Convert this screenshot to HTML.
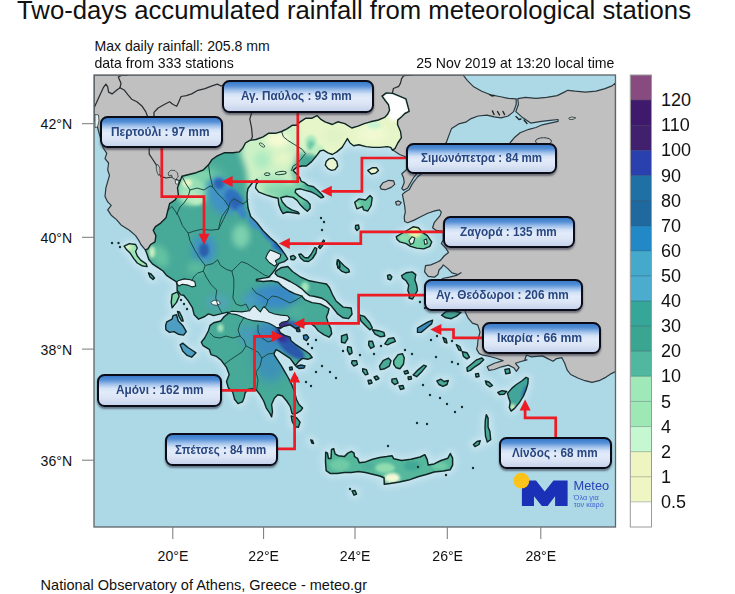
<!DOCTYPE html>
<html lang="el"><head><meta charset="utf-8"><title>Two-days accumulated rainfall</title>
<style>
html,body{margin:0;padding:0;background:#fff;}
body{width:735px;height:594px;overflow:hidden;position:relative;font-family:"Liberation Sans",sans-serif;color:#111;}
svg{position:absolute;left:0;top:0;}
text{font-family:"Liberation Sans",sans-serif;}
.t{position:absolute;white-space:nowrap;line-height:1;}
.lb{position:absolute;box-sizing:border-box;border:2.6px solid #0a0c18;border-radius:7.5px;
 background:linear-gradient(to bottom,#3a7bcb 0%,#5590d6 14%,#9dbfea 28%,#d3e2f6 42%,#e2ebf9 55%,#dce5f5 75%,#c6d3ec 100%);
 box-shadow:0 2px 2px rgba(40,40,60,.55);}
.lb span{position:absolute;top:50%;transform:translateY(-40%);font-weight:bold;font-size:11.85px;color:#27467f;white-space:nowrap;line-height:1;display:inline-block;transform-origin:0 50%;}
</style></head><body>

<svg width="735" height="594" viewBox="0 0 735 594">
<defs><clipPath id="fc"><rect x="94" y="75" width="521.5" height="452"/></clipPath><filter id="b1" x="-20%" y="-20%" width="140%" height="140%"><feGaussianBlur stdDeviation="3"/></filter><filter id="b2" x="-30%" y="-30%" width="160%" height="160%"><feGaussianBlur stdDeviation="5"/></filter><filter id="b0" x="-20%" y="-20%" width="140%" height="140%"><feGaussianBlur stdDeviation="1.6"/></filter></defs>
<g clip-path="url(#fc)">
<rect x="93" y="74" width="524" height="454" fill="#add8e6"/>
<g filter="url(#b1)" opacity=".8" fill="#cfe9f2" stroke="#cfe9f2" stroke-width="8" stroke-linejoin="round"><polygon points="145.3,249.8 147.9,248.9 150.6,244.5 155.0,241.8 155.9,235.6 153.2,230.3 155.4,226.7 160.7,223.1 166.0,217.8 167.8,210.7 169.6,203.7 174.9,200.1 178.4,194.8 177.5,187.8 180.2,180.7 182.0,176.3 189.0,174.5 196.1,172.7 203.2,170.0 208.5,164.8 212.0,159.5 217.3,155.9 224.1,152.8 233.0,152.8 239.2,151.9 242.7,148.3 245.4,143.0 249.8,140.4 256.0,139.5 263.1,136.8 268.4,133.3 275.4,133.3 281.6,131.5 286.9,128.9 292.2,125.3 296.7,125.3 300.2,121.8 305.5,118.3 311.7,118.3 317.0,115.6 320.5,119.1 325.0,121.8 332.4,124.5 337.7,121.8 344.8,123.6 351.8,128.0 358.0,126.2 364.2,123.6 370.4,121.8 378.4,120.0 384.6,117.4 387.4,114.6 389.6,110.3 388.5,104.8 385.2,100.5 382.0,96.1 386.3,92.9 392.9,93.4 399.4,96.1 405.9,98.8 407.5,104.8 409.2,111.3 404.8,113.5 401.6,116.8 397.7,120.1 397.5,124.5 400.5,131.5 401.4,137.7 397.8,143.0 395.2,148.3 392.5,150.1 390.7,147.4 387.2,146.6 380.1,147.4 373.1,147.4 366.0,146.6 358.9,144.8 353.6,145.7 350.1,143.0 347.4,138.6 344.8,143.0 342.1,147.4 336.8,151.9 332.4,154.5 328.0,152.8 323.5,150.1 320.0,151.0 316.1,156.3 311.7,161.6 306.4,166.0 302.0,166.0 297.0,167.0 293.1,170.4 296.7,174.0 299.9,177.9 301.2,181.3 304.6,182.7 308.0,185.4 313.5,186.8 317.6,190.2 321.6,194.3 323.7,197.0 321.0,197.9 316.2,194.5 310.7,191.7 305.3,190.4 300.5,188.8 295.8,189.5 295.1,192.2 298.5,195.6 302.6,198.3 307.3,201.1 310.1,204.5 310.1,208.5 307.3,211.3 303.9,208.5 300.5,205.1 297.1,200.4 293.1,197.4 286.3,196.3 280.8,197.7 282.2,201.7 286.3,206.5 291.7,209.9 297.8,211.9 299.2,213.7 293.1,212.8 286.9,212.0 282.9,213.5 280.8,209.9 278.8,204.5 278.1,198.3 272.7,197.0 265.9,194.9 259.0,192.2 255.6,188.1 256.3,184.0 258.6,182.0 256.9,179.3 252.4,182.8 248.0,188.5 247.1,193.4 247.1,198.8 248.0,207.7 250.7,216.5 256.9,222.7 263.1,230.7 270.1,237.8 276.3,243.1 280.8,248.4 285.2,254.6 287.8,259.0 284.3,261.6 279.0,263.4 277.2,266.0 275.4,269.3 272.7,272.7 268.6,277.4 263.2,278.1 256.4,279.5 256.4,280.8 263.2,281.5 271.3,280.8 278.1,282.2 282.2,286.3 289.0,291.0 294.5,293.7 301.3,295.8 305.3,299.9 312.1,302.6 320.3,303.9 325.7,306.7 329.0,308.5 328.2,312.4 326.4,316.9 328.2,323.1 330.8,328.4 331.7,333.7 329.0,337.2 323.7,334.6 318.4,331.0 314.9,326.6 310.5,323.1 306.1,323.9 300.7,326.6 295.4,328.4 290.1,324.8 283.1,326.6 278.6,329.3 280.4,332.8 284.8,335.4 290.1,337.2 291.0,340.7 295.4,344.3 300.7,347.8 306.1,351.4 309.6,354.0 312.2,357.5 307.8,359.3 302.5,358.4 299.0,361.1 295.4,365.5 292.8,362.0 290.1,358.4 284.8,354.9 279.5,351.4 276.0,349.6 274.2,353.1 274.3,355.0 277.8,360.3 281.3,365.6 284.9,371.8 288.4,378.0 292.0,385.1 294.6,392.1 296.4,399.2 299.0,404.5 302.6,408.1 300.8,410.7 296.4,413.4 293.0,414.0 292.0,413.4 290.2,406.3 286.7,401.0 282.2,395.7 277.8,394.8 274.3,398.3 271.6,404.5 272.5,411.6 271.6,416.9 269.9,413.4 266.3,408.1 263.7,401.0 260.1,394.8 256.6,390.4 253.1,388.6 247.8,389.5 245.1,393.0 244.2,397.4 242.4,401.9 238.0,403.6 234.5,399.2 232.7,392.1 228.3,387.7 226.5,381.5 229.2,374.5 226.5,367.4 221.2,360.3 216.3,356.3 211.0,354.6 209.3,349.3 203.1,345.7 201.3,342.2 204.8,337.8 208.4,330.7 210.1,325.4 213.7,322.7 220.7,321.0 224.3,316.5 227.8,313.9 227.8,312.1 220.7,313.9 213.7,315.6 208.4,313.9 204.8,316.5 198.6,319.2 194.2,314.8 192.4,307.7 188.0,300.6 183.6,295.3 180.7,294.9 177.1,290.4 177.1,285.1 176.2,281.6 171.8,278.9 166.5,275.4 163.0,271.0 157.7,267.4 152.4,263.9 148.8,259.5 147.1,254.2"/><polygon points="276.0,271.0 280.8,267.8 287.8,266.5 292.5,271.5 300.4,277.0 309.3,280.8 319.0,282.6 326.5,284.0 329.5,287.7 332.6,294.8 336.1,301.0 343.2,307.1 351.2,308.0 352.0,314.2 348.5,318.6 343.2,317.8 337.9,314.2 334.4,309.8 330.8,305.4 326.4,301.0 322.0,298.3 314.9,296.5 309.6,295.6 306.1,293.0 301.6,288.6 296.3,285.0 290.1,281.5 283.1,278.0 277.8,276.2 275.1,273.5"/><polygon points="325.7,452.2 327.5,453.1 328.4,458.4 331.0,458.4 331.5,449.5 333.7,448.6 335.1,453.9 338.1,455.7 344.3,456.6 347.8,453.1 351.4,451.3 354.0,453.1 354.5,456.6 357.5,458.4 359.3,462.8 365.5,461.9 372.6,459.2 379.7,457.5 386.7,456.6 392.0,455.7 393.8,458.8 401.7,460.5 410.9,459.3 420.2,457.0 424.8,454.7 427.1,459.3 428.3,465.1 434.1,463.9 441.0,460.5 447.9,458.2 450.3,453.5 452.6,458.2 452.6,465.1 450.3,469.7 443.3,470.9 434.1,472.0 427.1,474.3 417.9,476.7 408.6,480.1 399.4,482.0 390.1,483.6 384.3,484.3 384.0,477.8 379.7,476.0 372.6,474.3 365.5,472.5 358.4,471.6 351.4,472.5 344.3,472.5 337.2,473.4 330.1,473.4 326.2,470.7 325.5,462.0"/><polygon points="124.1,246.2 129.4,243.6 135.6,244.5 137.3,248 135.6,251.5 137.3,256 140.9,260.4 146.2,263.9 147.1,266.6 141.8,265.7 137.3,263 133.8,258.6 130.3,253.3 126.7,249.8"/><polygon points="148.5,273 151,274 154.5,278 153,279.5 150,277"/><polygon points="172.1,294.4 177.4,291.8 179.2,296.2 176.5,302.4 172.1,307.7 171.2,302.4"/><polygon points="166.8,321.8 172.1,319.2 173,315.6 176.5,314.8 178.3,321 182.7,325.4 186.3,331.6 183.6,335.1 178.3,334.2 173.9,331.6 169.5,332.4 165.9,329.8 165.6,325.4"/><polygon points="177.5,311.5 179.5,312 182,317 183.2,321 181.5,321 179,316.5"/><polygon points="180.1,344.8 182.7,343.1 188,347.5 193.3,351 196,352.8 191.6,357.2 187.1,355.4 182.7,351"/><polygon points="291.2,415.9 296.5,417.7 300.1,422.1 298.3,427.4 294.8,426.5 292.1,421.2"/><polygon points="310.7,439.8 312.5,440.5 313.6,443.5 311.8,443"/><polygon points="328.8,158.9 333.3,158.1 336.8,161.6 337.7,166 335,169.6 331.5,170.4 328,168.7 325.3,165.1 326.2,161.6"/><polygon points="367.8,170.4 372.2,167.8 376.6,167.8 378.4,170.4 375.7,173.1 371.3,174"/><polygon points="354.7,202.2 359.1,198.9 365.6,200 370,195.6 372.2,197.8 371.1,205.5 367.8,211 363.5,209.9 362.5,206.5 360.2,207.7 356.9,208.8"/><polygon points="355.6,225.5 358.5,225 359.2,228.5 357,230.6 355.4,228.5"/><polygon points="396.3,236.6 402.5,233 408.7,229.5 413.1,226.8 418.4,227.7 422,232.1 427.3,235.7 431.7,241.9 429.9,246.3 423.7,248.9 416.7,248.1 410.5,246.3 406.1,243.6 399.9,241.9 396.9,239.2"/><polygon points="338,259.6 340.6,262.2 344.1,265.7 348.6,269.3 349.5,271.9 345.9,272.8 341.5,271.1 338,267.5 337.1,263.1"/><polygon points="387.5,275.5 390,274.6 391.9,277 390.5,279.9 388,279"/><polygon points="401.6,275.5 406.1,272.8 412.2,271.9 415.8,274.6 414.9,279.9 416.7,285.2 417.5,290.5 414.9,295 412.5,299 409,298 409.6,295 407.8,290.5 408.7,285.2 406.1,280.8 402.5,278.1"/><polygon points="290.5,256.5 293.5,255.4 295.8,257.5 294,259.9 291,259.5"/><polygon points="298.8,254.5 301,254 304.5,257.5 308,258 311,254.5 313.5,250 315,247.5 316.8,248.5 316,253 312.5,258.5 308.5,261.5 304,261 300.5,258"/><polygon points="318.5,247 321,244 323.5,240 324.5,241 322.5,245.5 320,248.5"/><polygon points="337.3,260 339.5,261.5 340,267 338,268 337,264"/><polygon points="359.2,314.8 364.5,316.5 369.8,322.7 372.4,328 369.8,329.8 365.4,325.4 361,321"/><polygon points="372.4,329.8 378.6,330.7 383.9,332.4 384.8,336 380.4,336.9 375.1,334.2"/><polygon points="388.4,338.6 393.7,337.8 395.4,341.3 391,343.1 387.5,344.8 384.8,343.9"/><polygon points="368.9,341.3 372.4,341.3 374.2,346.6 370.7,348.4 368.6,344.8"/><polygon points="341.5,336 346.8,334.2 347.7,338.6 345,343.1 341.5,342.2"/><polygon points="347.7,346.6 351.2,347.5 352.1,352.8 349.5,354.6 347.3,350.1"/><polygon points="352.1,360.7 356.5,360.7 357.4,364.3 353.9,366.1 351.6,363.4"/><polygon points="362.7,368.7 366.3,369.6 368,374 365.4,374.9 362.7,371.4"/><polygon points="379.5,366.1 383.1,360.7 388.4,358.1 391,360.7 389.3,366.1 384.8,368.7 380.4,369.6"/><polygon points="393.7,360.7 398.1,354.6 402.5,353.7 404.3,358.1 403.4,364.3 399.9,368.7 396.3,367.8 393.7,364.3"/><polygon points="413.1,374.9 418.4,369.6 423.7,365.2 426.4,366.1 422,371.4 416.7,376.7"/><polygon points="391.9,379.3 396.3,378.4 398.1,382.9 394.6,384.6 391.9,382"/><polygon points="417.5,328 422,325.4 428.2,321.8 432.6,320.1 431.7,323.6 426.4,328 421.1,332.4 417.5,332.4"/><polygon points="441.5,315.2 445.9,311.6 453,310.7 461,312.5 456.5,316.1 451.2,318.7 445.9,317.8"/><polygon points="466.9,367.7 471.3,364.2 476.6,359.8 481.9,358 483.7,359.8 480.1,363.3 474.8,366.8 470.4,370.4 467.4,371.3"/><polygon points="462.4,351.8 466.9,352.7 469.5,357.1 466.9,358.9 463.3,356.2"/><polygon points="456.3,344.7 459.8,346.5 461.6,350.9 458.9,350"/><polygon points="443,337.5 446,339 447,343 444.5,342"/><polygon points="504.9,369.5 509.3,368.6 510.2,373 505.8,373.9"/><polygon points="475.5,374 478.5,373.5 479,376.5 476,377"/><polygon points="485.4,381 489,382 492.5,385.5 490,386.8 486.5,384.5"/><polygon points="497.8,392.5 502,390.7 506.7,391.5 504,394.3 499.5,394.5"/><polygon points="436.8,381 441,379.2 444,381.5 448.3,380.5 447,384.5 443,386.3 439,384.5"/><polygon points="486.3,414.6 488.1,418.1 488.1,427 489.9,431.4 490.7,439.7 487.3,442 485.5,436 485,428 485.3,420"/><polygon points="473.4,444.5 477,441.5 480.3,440.8 479,444.5 475,446.6"/><polygon points="512,388.1 516.4,384.5 521.7,381 526.1,377.4 528.2,378.3 527.9,383.6 526.1,389.8 523.5,396 519,403.1 514.6,408.4 511.1,411.1 509.3,407.5 510.2,402.2 508.4,396.9 507.5,393.4"/><polygon points="352,491 355,490.5 356.6,494 354,495.2"/><polygon points="303.4,335.5 306.5,334.6 308.7,337.5 306.5,340.7 303.8,339"/><polygon points="296,328.5 299.5,329 300,331.5 297,331.5"/><polygon points="399,386 403,385.5 404,388.5 400.5,389.5"/><polygon points="374,377 377,376 379,378.5 376,380"/><polygon points="368,380.5 371,380 372,383 369,384"/><polygon points="404,371.5 407.5,370.5 408.5,373 405,374"/><polygon points="408,377 411,376.5 411.5,379 408.5,379.5"/><polygon points="296,366.5 301,365 305,366 304,368 299,368.5"/><polygon points="289.5,367.5 292,367 292.5,369.5 290,370"/></g>
<polygon points="94.0,75.0 463.1,75.0 467.5,80.6 473.7,86.8 481.7,91.2 490.5,94.8 499.4,96.5 508.2,98.3 516.2,98.8 516.2,104.5 513.6,111.6 508.2,116.0 501.1,117.8 494.0,116.9 487.0,115.1 478.1,116.0 471.1,118.6 465.7,122.2 458.7,123.9 451.6,128.4 448.9,135.4 446.3,142.5 438.0,152.0 428.0,162.0 420.0,170.0 414.2,176.8 410.6,182.7 407.7,188.0 403.6,190.3 401.8,188.6 404.2,182.7 403.6,178.0 401.8,173.8 406.5,169.7 408.0,160.0 406.7,157.2 399.6,154.5 394.3,151.0 392.5,150.1 390.0,140.0 350.0,135.0 300.0,140.0 262.0,160.0 232.0,198.0 205.0,238.0 165.0,246.0 145.3,249.8 140.9,244.5 139.1,240.9 135.6,235.6 129.4,230.3 121.0,224.9 116.5,219.6 111.2,215.2 107.7,209.9 111.2,205.4 107.7,201.9 105.0,196.6 105.9,187.8 107.7,181.6 109.5,175.4 107.7,170.0 108.6,163.0 105.0,158.6 106.8,153.3 103.3,148.0 101.0,140.0 98.5,131.0 96.5,123.0 94.0,119.0" fill="#c0c0c0" stroke="#2b383e" stroke-width="1.2" stroke-linejoin="round"/>
<polygon points="615.5,83.0 612.0,85.9 605.0,88.6 596.1,91.2 585.5,92.1 574.9,91.2 567.8,90.3 564.3,92.1 557.2,95.6 546.6,97.4 536.0,98.3 525.4,97.4 517.8,98.6 518.4,104.5 515.8,111.6 521.8,116.9 530.7,123.1 541.3,121.3 550.1,120.4 558.1,119.5 558.1,121.3 550.1,123.1 542.2,124.8 536.0,127.5 528.9,129.3 520.1,132.8 514.8,137.2 510.3,142.5 504.0,152.0 492.0,160.0 476.0,163.0 458.0,160.0 446.0,158.0 436.0,163.0 426.0,170.0 417.5,177.0 412.4,183.6 409.3,189.5 405.2,192.0 402.4,194.4 403.6,200.3 404.7,206.2 405.3,212.1 404.2,216.8 404.7,221.5 407.7,222.7 413.6,220.4 420.6,216.8 427.7,213.3 434.8,210.9 439.5,209.8 441.3,212.1 440.1,215.6 437.1,219.2 434.2,222.7 432.6,227.7 436.1,230.4 443.2,231.3 443.2,240.1 441.4,243.6 445.8,248.1 448.5,252.5 444.1,256.0 440.5,260.4 437.5,262.0 430.8,264.9 425.5,265.7 424.6,271.9 428.2,276.4 434.4,277.2 437.9,274.6 439.0,270.0 442.0,267.0 443.2,264.9 447.6,268.4 452.0,272.8 458.0,274.5 461.0,272.7 456.5,275.4 449.5,277.1 442.4,278.5 441.0,281.0 446.0,283.0 452.0,282.0 458.0,284.0 463.0,288.0 466.0,296.0 464.0,304.0 465.4,312.5 468.0,317.8 472.4,323.1 477.7,324.9 480.0,332.0 478.0,340.0 477.5,345.6 476.6,349.1 479.3,353.6 483.0,355.2 490.0,356.5 497.0,358.5 503.1,360.6 494.3,363.3 487.2,366.8 489.0,370.4 494.3,369.5 501.4,366.8 508.4,365.1 513.7,367.7 516.4,371.3 519.0,367.7 515.5,363.3 520.8,361.5 527.0,359.8 524.8,359.5 526.5,355.0 531.0,356.8 542.4,355.9 547.8,358.6 553.1,361.2 556.6,358.6 561.9,357.7 564.6,363.0 567.2,370.1 570.7,374.5 577.8,378.0 584.9,380.7 592.0,382.4 599.0,380.7 606.1,377.1 611.4,373.6 615.5,371.5" fill="#c0c0c0" stroke="#2b383e" stroke-width="1.2" stroke-linejoin="round"/>
<polygon points="380.0,186.8 383.0,182.7 388.8,180.3 393.6,180.9 394.7,184.4 391.2,187.4 385.3,189.7 381.2,189.1" fill="#c0c0c0" stroke="#2b383e" stroke-width="1.2" stroke-linejoin="round"/>
<polygon points="395.5,202.0 398.5,200.9 401.2,202.5 399.5,205.0 396.5,204.8" fill="#c0c0c0" stroke="#2b383e" stroke-width="1.2" stroke-linejoin="round"/>
<polyline points="94.0,108.0 98.0,99.2 103.3,87.7 105.9,84.1 107.7,86.8 108.6,92.1 112.1,93.9 116.5,90.3 120.0,87.7 121.0,83.3 118.3,77.0 121.8,75.3 127.1,75.3" fill="none" stroke="#2a2e31" stroke-width="1.25" stroke-linejoin="round" stroke-linecap="round"/>
<polyline points="120.0,87.7 124.5,90.3 128.0,94.8 131.6,99.2 136.9,101.8 142.2,106.3 145.7,111.6 147.5,116.3 149.0,125.0 148.5,135.0 149.2,148.0 149.2,154.1 152.8,159.5 156.3,164.8 158.1,171.8 160.7,176.3 166.0,178.0 172.0,177.0 177.5,180.0 180.2,180.7" fill="none" stroke="#2a2e31" stroke-width="1.25" stroke-linejoin="round" stroke-linecap="round"/>
<polyline points="154.0,116.3 154.0,112.4 158.1,108.0 164.3,104.5 169.6,101.8 173.1,104.5 176.7,106.3 178.4,102.7 181.1,96.5 186.4,95.6 191.7,93.9 197.9,90.3 205.0,88.6 212.0,85.9 217.3,84.1 221.0,86.0 226.0,84.0 232.0,86.0 238.0,90.0 243.0,96.0 247.0,104.0 251.6,113.0 249.8,119.1 251.6,128.0 252.4,136.8 251.0,140.0" fill="none" stroke="#2a2e31" stroke-width="1.25" stroke-linejoin="round" stroke-linecap="round"/>
<polyline points="147.5,116.3 151.0,118.0 154.0,116.3" fill="none" stroke="#2a2e31" stroke-width="1.25" stroke-linejoin="round" stroke-linecap="round"/>
<polyline points="392.3,93.4 393.4,88.5 398.8,86.3 400.5,83.1 401.6,78.7 403.7,75.6 412.4,74.8" fill="none" stroke="#2a2e31" stroke-width="1.25" stroke-linejoin="round" stroke-linecap="round"/>
<polygon points="255.0,278.0 270.0,274.0 279.0,266.0 284.0,270.0 300.0,284.0 312.0,294.0 330.0,300.0 332.0,310.0 318.0,306.0 300.0,300.0 284.0,292.0 276.0,284.0 255.0,283.0" fill="#d9ebf3"/>
<clipPath id="gc"><polygon points="145.3,249.8 147.9,248.9 150.6,244.5 155.0,241.8 155.9,235.6 153.2,230.3 155.4,226.7 160.7,223.1 166.0,217.8 167.8,210.7 169.6,203.7 174.9,200.1 178.4,194.8 177.5,187.8 180.2,180.7 182.0,176.3 189.0,174.5 196.1,172.7 203.2,170.0 208.5,164.8 212.0,159.5 217.3,155.9 224.1,152.8 233.0,152.8 239.2,151.9 242.7,148.3 245.4,143.0 249.8,140.4 256.0,139.5 263.1,136.8 268.4,133.3 275.4,133.3 281.6,131.5 286.9,128.9 292.2,125.3 296.7,125.3 300.2,121.8 305.5,118.3 311.7,118.3 317.0,115.6 320.5,119.1 325.0,121.8 332.4,124.5 337.7,121.8 344.8,123.6 351.8,128.0 358.0,126.2 364.2,123.6 370.4,121.8 378.4,120.0 384.6,117.4 387.4,114.6 389.6,110.3 388.5,104.8 385.2,100.5 382.0,96.1 386.3,92.9 392.9,93.4 399.4,96.1 405.9,98.8 407.5,104.8 409.2,111.3 404.8,113.5 401.6,116.8 397.7,120.1 397.5,124.5 400.5,131.5 401.4,137.7 397.8,143.0 395.2,148.3 392.5,150.1 390.7,147.4 387.2,146.6 380.1,147.4 373.1,147.4 366.0,146.6 358.9,144.8 353.6,145.7 350.1,143.0 347.4,138.6 344.8,143.0 342.1,147.4 336.8,151.9 332.4,154.5 328.0,152.8 323.5,150.1 320.0,151.0 316.1,156.3 311.7,161.6 306.4,166.0 302.0,166.0 297.0,167.0 293.1,170.4 296.7,174.0 299.9,177.9 301.2,181.3 304.6,182.7 308.0,185.4 313.5,186.8 317.6,190.2 321.6,194.3 323.7,197.0 321.0,197.9 316.2,194.5 310.7,191.7 305.3,190.4 300.5,188.8 295.8,189.5 295.1,192.2 298.5,195.6 302.6,198.3 307.3,201.1 310.1,204.5 310.1,208.5 307.3,211.3 303.9,208.5 300.5,205.1 297.1,200.4 293.1,197.4 286.3,196.3 280.8,197.7 282.2,201.7 286.3,206.5 291.7,209.9 297.8,211.9 299.2,213.7 293.1,212.8 286.9,212.0 282.9,213.5 280.8,209.9 278.8,204.5 278.1,198.3 272.7,197.0 265.9,194.9 259.0,192.2 255.6,188.1 256.3,184.0 258.6,182.0 256.9,179.3 252.4,182.8 248.0,188.5 247.1,193.4 247.1,198.8 248.0,207.7 250.7,216.5 256.9,222.7 263.1,230.7 270.1,237.8 276.3,243.1 280.8,248.4 285.2,254.6 287.8,259.0 284.3,261.6 279.0,263.4 277.2,266.0 275.4,269.3 272.7,272.7 268.6,277.4 263.2,278.1 256.4,279.5 256.4,280.8 263.2,281.5 271.3,280.8 278.1,282.2 282.2,286.3 289.0,291.0 294.5,293.7 301.3,295.8 305.3,299.9 312.1,302.6 320.3,303.9 325.7,306.7 329.0,308.5 328.2,312.4 326.4,316.9 328.2,323.1 330.8,328.4 331.7,333.7 329.0,337.2 323.7,334.6 318.4,331.0 314.9,326.6 310.5,323.1 306.1,323.9 300.7,326.6 295.4,328.4 290.1,324.8 283.1,326.6 278.6,329.3 280.4,332.8 284.8,335.4 290.1,337.2 291.0,340.7 295.4,344.3 300.7,347.8 306.1,351.4 309.6,354.0 312.2,357.5 307.8,359.3 302.5,358.4 299.0,361.1 295.4,365.5 292.8,362.0 290.1,358.4 284.8,354.9 279.5,351.4 276.0,349.6 274.2,353.1 274.3,355.0 277.8,360.3 281.3,365.6 284.9,371.8 288.4,378.0 292.0,385.1 294.6,392.1 296.4,399.2 299.0,404.5 302.6,408.1 300.8,410.7 296.4,413.4 293.0,414.0 292.0,413.4 290.2,406.3 286.7,401.0 282.2,395.7 277.8,394.8 274.3,398.3 271.6,404.5 272.5,411.6 271.6,416.9 269.9,413.4 266.3,408.1 263.7,401.0 260.1,394.8 256.6,390.4 253.1,388.6 247.8,389.5 245.1,393.0 244.2,397.4 242.4,401.9 238.0,403.6 234.5,399.2 232.7,392.1 228.3,387.7 226.5,381.5 229.2,374.5 226.5,367.4 221.2,360.3 216.3,356.3 211.0,354.6 209.3,349.3 203.1,345.7 201.3,342.2 204.8,337.8 208.4,330.7 210.1,325.4 213.7,322.7 220.7,321.0 224.3,316.5 227.8,313.9 227.8,312.1 220.7,313.9 213.7,315.6 208.4,313.9 204.8,316.5 198.6,319.2 194.2,314.8 192.4,307.7 188.0,300.6 183.6,295.3 180.7,294.9 177.1,290.4 177.1,285.1 176.2,281.6 171.8,278.9 166.5,275.4 163.0,271.0 157.7,267.4 152.4,263.9 148.8,259.5 147.1,254.2"/><polygon points="276.0,271.0 280.8,267.8 287.8,266.5 292.5,271.5 300.4,277.0 309.3,280.8 319.0,282.6 326.5,284.0 329.5,287.7 332.6,294.8 336.1,301.0 343.2,307.1 351.2,308.0 352.0,314.2 348.5,318.6 343.2,317.8 337.9,314.2 334.4,309.8 330.8,305.4 326.4,301.0 322.0,298.3 314.9,296.5 309.6,295.6 306.1,293.0 301.6,288.6 296.3,285.0 290.1,281.5 283.1,278.0 277.8,276.2 275.1,273.5"/><polygon points="325.7,452.2 327.5,453.1 328.4,458.4 331.0,458.4 331.5,449.5 333.7,448.6 335.1,453.9 338.1,455.7 344.3,456.6 347.8,453.1 351.4,451.3 354.0,453.1 354.5,456.6 357.5,458.4 359.3,462.8 365.5,461.9 372.6,459.2 379.7,457.5 386.7,456.6 392.0,455.7 393.8,458.8 401.7,460.5 410.9,459.3 420.2,457.0 424.8,454.7 427.1,459.3 428.3,465.1 434.1,463.9 441.0,460.5 447.9,458.2 450.3,453.5 452.6,458.2 452.6,465.1 450.3,469.7 443.3,470.9 434.1,472.0 427.1,474.3 417.9,476.7 408.6,480.1 399.4,482.0 390.1,483.6 384.3,484.3 384.0,477.8 379.7,476.0 372.6,474.3 365.5,472.5 358.4,471.6 351.4,472.5 344.3,472.5 337.2,473.4 330.1,473.4 326.2,470.7 325.5,462.0"/><polygon points="124.1,246.2 129.4,243.6 135.6,244.5 137.3,248 135.6,251.5 137.3,256 140.9,260.4 146.2,263.9 147.1,266.6 141.8,265.7 137.3,263 133.8,258.6 130.3,253.3 126.7,249.8"/><polygon points="148.5,273 151,274 154.5,278 153,279.5 150,277"/><polygon points="172.1,294.4 177.4,291.8 179.2,296.2 176.5,302.4 172.1,307.7 171.2,302.4"/><polygon points="166.8,321.8 172.1,319.2 173,315.6 176.5,314.8 178.3,321 182.7,325.4 186.3,331.6 183.6,335.1 178.3,334.2 173.9,331.6 169.5,332.4 165.9,329.8 165.6,325.4"/><polygon points="177.5,311.5 179.5,312 182,317 183.2,321 181.5,321 179,316.5"/><polygon points="180.1,344.8 182.7,343.1 188,347.5 193.3,351 196,352.8 191.6,357.2 187.1,355.4 182.7,351"/><polygon points="291.2,415.9 296.5,417.7 300.1,422.1 298.3,427.4 294.8,426.5 292.1,421.2"/><polygon points="310.7,439.8 312.5,440.5 313.6,443.5 311.8,443"/><polygon points="328.8,158.9 333.3,158.1 336.8,161.6 337.7,166 335,169.6 331.5,170.4 328,168.7 325.3,165.1 326.2,161.6"/><polygon points="367.8,170.4 372.2,167.8 376.6,167.8 378.4,170.4 375.7,173.1 371.3,174"/><polygon points="354.7,202.2 359.1,198.9 365.6,200 370,195.6 372.2,197.8 371.1,205.5 367.8,211 363.5,209.9 362.5,206.5 360.2,207.7 356.9,208.8"/><polygon points="355.6,225.5 358.5,225 359.2,228.5 357,230.6 355.4,228.5"/><polygon points="396.3,236.6 402.5,233 408.7,229.5 413.1,226.8 418.4,227.7 422,232.1 427.3,235.7 431.7,241.9 429.9,246.3 423.7,248.9 416.7,248.1 410.5,246.3 406.1,243.6 399.9,241.9 396.9,239.2"/><polygon points="338,259.6 340.6,262.2 344.1,265.7 348.6,269.3 349.5,271.9 345.9,272.8 341.5,271.1 338,267.5 337.1,263.1"/><polygon points="387.5,275.5 390,274.6 391.9,277 390.5,279.9 388,279"/><polygon points="401.6,275.5 406.1,272.8 412.2,271.9 415.8,274.6 414.9,279.9 416.7,285.2 417.5,290.5 414.9,295 412.5,299 409,298 409.6,295 407.8,290.5 408.7,285.2 406.1,280.8 402.5,278.1"/><polygon points="290.5,256.5 293.5,255.4 295.8,257.5 294,259.9 291,259.5"/><polygon points="298.8,254.5 301,254 304.5,257.5 308,258 311,254.5 313.5,250 315,247.5 316.8,248.5 316,253 312.5,258.5 308.5,261.5 304,261 300.5,258"/><polygon points="318.5,247 321,244 323.5,240 324.5,241 322.5,245.5 320,248.5"/><polygon points="337.3,260 339.5,261.5 340,267 338,268 337,264"/><polygon points="359.2,314.8 364.5,316.5 369.8,322.7 372.4,328 369.8,329.8 365.4,325.4 361,321"/><polygon points="372.4,329.8 378.6,330.7 383.9,332.4 384.8,336 380.4,336.9 375.1,334.2"/><polygon points="388.4,338.6 393.7,337.8 395.4,341.3 391,343.1 387.5,344.8 384.8,343.9"/><polygon points="368.9,341.3 372.4,341.3 374.2,346.6 370.7,348.4 368.6,344.8"/><polygon points="341.5,336 346.8,334.2 347.7,338.6 345,343.1 341.5,342.2"/><polygon points="347.7,346.6 351.2,347.5 352.1,352.8 349.5,354.6 347.3,350.1"/><polygon points="352.1,360.7 356.5,360.7 357.4,364.3 353.9,366.1 351.6,363.4"/><polygon points="362.7,368.7 366.3,369.6 368,374 365.4,374.9 362.7,371.4"/><polygon points="379.5,366.1 383.1,360.7 388.4,358.1 391,360.7 389.3,366.1 384.8,368.7 380.4,369.6"/><polygon points="393.7,360.7 398.1,354.6 402.5,353.7 404.3,358.1 403.4,364.3 399.9,368.7 396.3,367.8 393.7,364.3"/><polygon points="413.1,374.9 418.4,369.6 423.7,365.2 426.4,366.1 422,371.4 416.7,376.7"/><polygon points="391.9,379.3 396.3,378.4 398.1,382.9 394.6,384.6 391.9,382"/><polygon points="417.5,328 422,325.4 428.2,321.8 432.6,320.1 431.7,323.6 426.4,328 421.1,332.4 417.5,332.4"/><polygon points="441.5,315.2 445.9,311.6 453,310.7 461,312.5 456.5,316.1 451.2,318.7 445.9,317.8"/><polygon points="466.9,367.7 471.3,364.2 476.6,359.8 481.9,358 483.7,359.8 480.1,363.3 474.8,366.8 470.4,370.4 467.4,371.3"/><polygon points="462.4,351.8 466.9,352.7 469.5,357.1 466.9,358.9 463.3,356.2"/><polygon points="456.3,344.7 459.8,346.5 461.6,350.9 458.9,350"/><polygon points="443,337.5 446,339 447,343 444.5,342"/><polygon points="504.9,369.5 509.3,368.6 510.2,373 505.8,373.9"/><polygon points="475.5,374 478.5,373.5 479,376.5 476,377"/><polygon points="485.4,381 489,382 492.5,385.5 490,386.8 486.5,384.5"/><polygon points="497.8,392.5 502,390.7 506.7,391.5 504,394.3 499.5,394.5"/><polygon points="436.8,381 441,379.2 444,381.5 448.3,380.5 447,384.5 443,386.3 439,384.5"/><polygon points="486.3,414.6 488.1,418.1 488.1,427 489.9,431.4 490.7,439.7 487.3,442 485.5,436 485,428 485.3,420"/><polygon points="473.4,444.5 477,441.5 480.3,440.8 479,444.5 475,446.6"/><polygon points="512,388.1 516.4,384.5 521.7,381 526.1,377.4 528.2,378.3 527.9,383.6 526.1,389.8 523.5,396 519,403.1 514.6,408.4 511.1,411.1 509.3,407.5 510.2,402.2 508.4,396.9 507.5,393.4"/><polygon points="352,491 355,490.5 356.6,494 354,495.2"/><polygon points="303.4,335.5 306.5,334.6 308.7,337.5 306.5,340.7 303.8,339"/><polygon points="296,328.5 299.5,329 300,331.5 297,331.5"/><polygon points="399,386 403,385.5 404,388.5 400.5,389.5"/><polygon points="374,377 377,376 379,378.5 376,380"/><polygon points="368,380.5 371,380 372,383 369,384"/><polygon points="404,371.5 407.5,370.5 408.5,373 405,374"/><polygon points="408,377 411,376.5 411.5,379 408.5,379.5"/><polygon points="296,366.5 301,365 305,366 304,368 299,368.5"/><polygon points="289.5,367.5 292,367 292.5,369.5 290,370"/></clipPath>
<polygon points="145.3,249.8 147.9,248.9 150.6,244.5 155.0,241.8 155.9,235.6 153.2,230.3 155.4,226.7 160.7,223.1 166.0,217.8 167.8,210.7 169.6,203.7 174.9,200.1 178.4,194.8 177.5,187.8 180.2,180.7 182.0,176.3 189.0,174.5 196.1,172.7 203.2,170.0 208.5,164.8 212.0,159.5 217.3,155.9 224.1,152.8 233.0,152.8 239.2,151.9 242.7,148.3 245.4,143.0 249.8,140.4 256.0,139.5 263.1,136.8 268.4,133.3 275.4,133.3 281.6,131.5 286.9,128.9 292.2,125.3 296.7,125.3 300.2,121.8 305.5,118.3 311.7,118.3 317.0,115.6 320.5,119.1 325.0,121.8 332.4,124.5 337.7,121.8 344.8,123.6 351.8,128.0 358.0,126.2 364.2,123.6 370.4,121.8 378.4,120.0 384.6,117.4 387.4,114.6 389.6,110.3 388.5,104.8 385.2,100.5 382.0,96.1 386.3,92.9 392.9,93.4 399.4,96.1 405.9,98.8 407.5,104.8 409.2,111.3 404.8,113.5 401.6,116.8 397.7,120.1 397.5,124.5 400.5,131.5 401.4,137.7 397.8,143.0 395.2,148.3 392.5,150.1 390.7,147.4 387.2,146.6 380.1,147.4 373.1,147.4 366.0,146.6 358.9,144.8 353.6,145.7 350.1,143.0 347.4,138.6 344.8,143.0 342.1,147.4 336.8,151.9 332.4,154.5 328.0,152.8 323.5,150.1 320.0,151.0 316.1,156.3 311.7,161.6 306.4,166.0 302.0,166.0 297.0,167.0 293.1,170.4 296.7,174.0 299.9,177.9 301.2,181.3 304.6,182.7 308.0,185.4 313.5,186.8 317.6,190.2 321.6,194.3 323.7,197.0 321.0,197.9 316.2,194.5 310.7,191.7 305.3,190.4 300.5,188.8 295.8,189.5 295.1,192.2 298.5,195.6 302.6,198.3 307.3,201.1 310.1,204.5 310.1,208.5 307.3,211.3 303.9,208.5 300.5,205.1 297.1,200.4 293.1,197.4 286.3,196.3 280.8,197.7 282.2,201.7 286.3,206.5 291.7,209.9 297.8,211.9 299.2,213.7 293.1,212.8 286.9,212.0 282.9,213.5 280.8,209.9 278.8,204.5 278.1,198.3 272.7,197.0 265.9,194.9 259.0,192.2 255.6,188.1 256.3,184.0 258.6,182.0 256.9,179.3 252.4,182.8 248.0,188.5 247.1,193.4 247.1,198.8 248.0,207.7 250.7,216.5 256.9,222.7 263.1,230.7 270.1,237.8 276.3,243.1 280.8,248.4 285.2,254.6 287.8,259.0 284.3,261.6 279.0,263.4 277.2,266.0 275.4,269.3 272.7,272.7 268.6,277.4 263.2,278.1 256.4,279.5 256.4,280.8 263.2,281.5 271.3,280.8 278.1,282.2 282.2,286.3 289.0,291.0 294.5,293.7 301.3,295.8 305.3,299.9 312.1,302.6 320.3,303.9 325.7,306.7 329.0,308.5 328.2,312.4 326.4,316.9 328.2,323.1 330.8,328.4 331.7,333.7 329.0,337.2 323.7,334.6 318.4,331.0 314.9,326.6 310.5,323.1 306.1,323.9 300.7,326.6 295.4,328.4 290.1,324.8 283.1,326.6 278.6,329.3 280.4,332.8 284.8,335.4 290.1,337.2 291.0,340.7 295.4,344.3 300.7,347.8 306.1,351.4 309.6,354.0 312.2,357.5 307.8,359.3 302.5,358.4 299.0,361.1 295.4,365.5 292.8,362.0 290.1,358.4 284.8,354.9 279.5,351.4 276.0,349.6 274.2,353.1 274.3,355.0 277.8,360.3 281.3,365.6 284.9,371.8 288.4,378.0 292.0,385.1 294.6,392.1 296.4,399.2 299.0,404.5 302.6,408.1 300.8,410.7 296.4,413.4 293.0,414.0 292.0,413.4 290.2,406.3 286.7,401.0 282.2,395.7 277.8,394.8 274.3,398.3 271.6,404.5 272.5,411.6 271.6,416.9 269.9,413.4 266.3,408.1 263.7,401.0 260.1,394.8 256.6,390.4 253.1,388.6 247.8,389.5 245.1,393.0 244.2,397.4 242.4,401.9 238.0,403.6 234.5,399.2 232.7,392.1 228.3,387.7 226.5,381.5 229.2,374.5 226.5,367.4 221.2,360.3 216.3,356.3 211.0,354.6 209.3,349.3 203.1,345.7 201.3,342.2 204.8,337.8 208.4,330.7 210.1,325.4 213.7,322.7 220.7,321.0 224.3,316.5 227.8,313.9 227.8,312.1 220.7,313.9 213.7,315.6 208.4,313.9 204.8,316.5 198.6,319.2 194.2,314.8 192.4,307.7 188.0,300.6 183.6,295.3 180.7,294.9 177.1,290.4 177.1,285.1 176.2,281.6 171.8,278.9 166.5,275.4 163.0,271.0 157.7,267.4 152.4,263.9 148.8,259.5 147.1,254.2" fill="#47a998"/>
<polygon points="276.0,271.0 280.8,267.8 287.8,266.5 292.5,271.5 300.4,277.0 309.3,280.8 319.0,282.6 326.5,284.0 329.5,287.7 332.6,294.8 336.1,301.0 343.2,307.1 351.2,308.0 352.0,314.2 348.5,318.6 343.2,317.8 337.9,314.2 334.4,309.8 330.8,305.4 326.4,301.0 322.0,298.3 314.9,296.5 309.6,295.6 306.1,293.0 301.6,288.6 296.3,285.0 290.1,281.5 283.1,278.0 277.8,276.2 275.1,273.5" fill="#47a998"/>
<polygon points="325.7,452.2 327.5,453.1 328.4,458.4 331.0,458.4 331.5,449.5 333.7,448.6 335.1,453.9 338.1,455.7 344.3,456.6 347.8,453.1 351.4,451.3 354.0,453.1 354.5,456.6 357.5,458.4 359.3,462.8 365.5,461.9 372.6,459.2 379.7,457.5 386.7,456.6 392.0,455.7 393.8,458.8 401.7,460.5 410.9,459.3 420.2,457.0 424.8,454.7 427.1,459.3 428.3,465.1 434.1,463.9 441.0,460.5 447.9,458.2 450.3,453.5 452.6,458.2 452.6,465.1 450.3,469.7 443.3,470.9 434.1,472.0 427.1,474.3 417.9,476.7 408.6,480.1 399.4,482.0 390.1,483.6 384.3,484.3 384.0,477.8 379.7,476.0 372.6,474.3 365.5,472.5 358.4,471.6 351.4,472.5 344.3,472.5 337.2,473.4 330.1,473.4 326.2,470.7 325.5,462.0" fill="#55b89c"/>
<polygon points="124.1,246.2 129.4,243.6 135.6,244.5 137.3,248.0 135.6,251.5 137.3,256.0 140.9,260.4 146.2,263.9 147.1,266.6 141.8,265.7 137.3,263.0 133.8,258.6 130.3,253.3 126.7,249.8" fill="#9fe5b4"/>
<polygon points="148.5,273.0 151.0,274.0 154.5,278.0 153.0,279.5 150.0,277.0" fill="#4aa79a"/>
<polygon points="172.1,294.4 177.4,291.8 179.2,296.2 176.5,302.4 172.1,307.7 171.2,302.4" fill="#7fd6a8"/>
<polygon points="166.8,321.8 172.1,319.2 173.0,315.6 176.5,314.8 178.3,321.0 182.7,325.4 186.3,331.6 183.6,335.1 178.3,334.2 173.9,331.6 169.5,332.4 165.9,329.8 165.6,325.4" fill="#4d9ec2"/>
<polygon points="177.5,311.5 179.5,312.0 182.0,317.0 183.2,321.0 181.5,321.0 179.0,316.5" fill="#49a29c"/>
<polygon points="180.1,344.8 182.7,343.1 188.0,347.5 193.3,351.0 196.0,352.8 191.6,357.2 187.1,355.4 182.7,351.0" fill="#4d9ec2"/>
<polygon points="291.2,415.9 296.5,417.7 300.1,422.1 298.3,427.4 294.8,426.5 292.1,421.2" fill="#3fa392"/>
<polygon points="310.7,439.8 312.5,440.5 313.6,443.5 311.8,443.0" fill="#3fa392"/>
<polygon points="328.8,158.9 333.3,158.1 336.8,161.6 337.7,166.0 335.0,169.6 331.5,170.4 328.0,168.7 325.3,165.1 326.2,161.6" fill="#eaf6d2"/>
<polygon points="367.8,170.4 372.2,167.8 376.6,167.8 378.4,170.4 375.7,173.1 371.3,174.0" fill="#eef7d0"/>
<polygon points="354.7,202.2 359.1,198.9 365.6,200.0 370.0,195.6 372.2,197.8 371.1,205.5 367.8,211.0 363.5,209.9 362.5,206.5 360.2,207.7 356.9,208.8" fill="#5fc29f"/>
<polygon points="355.6,225.5 358.5,225.0 359.2,228.5 357.0,230.6 355.4,228.5" fill="#4aa79a"/>
<polygon points="396.3,236.6 402.5,233.0 408.7,229.5 413.1,226.8 418.4,227.7 422.0,232.1 427.3,235.7 431.7,241.9 429.9,246.3 423.7,248.9 416.7,248.1 410.5,246.3 406.1,243.6 399.9,241.9 396.9,239.2" fill="#73d3a7"/>
<polygon points="338.0,259.6 340.6,262.2 344.1,265.7 348.6,269.3 349.5,271.9 345.9,272.8 341.5,271.1 338.0,267.5 337.1,263.1" fill="#49a898"/>
<polygon points="387.5,275.5 390.0,274.6 391.9,277.0 390.5,279.9 388.0,279.0" fill="#49a898"/>
<polygon points="401.6,275.5 406.1,272.8 412.2,271.9 415.8,274.6 414.9,279.9 416.7,285.2 417.5,290.5 414.9,295.0 412.5,299.0 409.0,298.0 409.6,295.0 407.8,290.5 408.7,285.2 406.1,280.8 402.5,278.1" fill="#46a896"/>
<polygon points="290.5,256.5 293.5,255.4 295.8,257.5 294.0,259.9 291.0,259.5" fill="#49a898"/>
<polygon points="298.8,254.5 301.0,254.0 304.5,257.5 308.0,258.0 311.0,254.5 313.5,250.0 315.0,247.5 316.8,248.5 316.0,253.0 312.5,258.5 308.5,261.5 304.0,261.0 300.5,258.0" fill="#49a898"/>
<polygon points="318.5,247.0 321.0,244.0 323.5,240.0 324.5,241.0 322.5,245.5 320.0,248.5" fill="#49a898"/>
<polygon points="337.3,260.0 339.5,261.5 340.0,267.0 338.0,268.0 337.0,264.0" fill="#49a898"/>
<polygon points="359.2,314.8 364.5,316.5 369.8,322.7 372.4,328.0 369.8,329.8 365.4,325.4 361.0,321.0" fill="#49a898"/>
<polygon points="372.4,329.8 378.6,330.7 383.9,332.4 384.8,336.0 380.4,336.9 375.1,334.2" fill="#49a898"/>
<polygon points="388.4,338.6 393.7,337.8 395.4,341.3 391.0,343.1 387.5,344.8 384.8,343.9" fill="#49a898"/>
<polygon points="368.9,341.3 372.4,341.3 374.2,346.6 370.7,348.4 368.6,344.8" fill="#49a898"/>
<polygon points="341.5,336.0 346.8,334.2 347.7,338.6 345.0,343.1 341.5,342.2" fill="#49a898"/>
<polygon points="347.7,346.6 351.2,347.5 352.1,352.8 349.5,354.6 347.3,350.1" fill="#49a898"/>
<polygon points="352.1,360.7 356.5,360.7 357.4,364.3 353.9,366.1 351.6,363.4" fill="#49a898"/>
<polygon points="362.7,368.7 366.3,369.6 368.0,374.0 365.4,374.9 362.7,371.4" fill="#49a898"/>
<polygon points="379.5,366.1 383.1,360.7 388.4,358.1 391.0,360.7 389.3,366.1 384.8,368.7 380.4,369.6" fill="#49a898"/>
<polygon points="393.7,360.7 398.1,354.6 402.5,353.7 404.3,358.1 403.4,364.3 399.9,368.7 396.3,367.8 393.7,364.3" fill="#5cc0a0"/>
<polygon points="413.1,374.9 418.4,369.6 423.7,365.2 426.4,366.1 422.0,371.4 416.7,376.7" fill="#49a898"/>
<polygon points="391.9,379.3 396.3,378.4 398.1,382.9 394.6,384.6 391.9,382.0" fill="#49a898"/>
<polygon points="417.5,328.0 422.0,325.4 428.2,321.8 432.6,320.1 431.7,323.6 426.4,328.0 421.1,332.4 417.5,332.4" fill="#3a8dbb"/>
<polygon points="441.5,315.2 445.9,311.6 453.0,310.7 461.0,312.5 456.5,316.1 451.2,318.7 445.9,317.8" fill="#43a596"/>
<polygon points="466.9,367.7 471.3,364.2 476.6,359.8 481.9,358.0 483.7,359.8 480.1,363.3 474.8,366.8 470.4,370.4 467.4,371.3" fill="#49a898"/>
<polygon points="462.4,351.8 466.9,352.7 469.5,357.1 466.9,358.9 463.3,356.2" fill="#49a898"/>
<polygon points="456.3,344.7 459.8,346.5 461.6,350.9 458.9,350.0" fill="#49a898"/>
<polygon points="443.0,337.5 446.0,339.0 447.0,343.0 444.5,342.0" fill="#49a898"/>
<polygon points="504.9,369.5 509.3,368.6 510.2,373.0 505.8,373.9" fill="#49a898"/>
<polygon points="475.5,374.0 478.5,373.5 479.0,376.5 476.0,377.0" fill="#49a898"/>
<polygon points="485.4,381.0 489.0,382.0 492.5,385.5 490.0,386.8 486.5,384.5" fill="#49a898"/>
<polygon points="497.8,392.5 502.0,390.7 506.7,391.5 504.0,394.3 499.5,394.5" fill="#49a898"/>
<polygon points="436.8,381.0 441.0,379.2 444.0,381.5 448.3,380.5 447.0,384.5 443.0,386.3 439.0,384.5" fill="#49a898"/>
<polygon points="486.3,414.6 488.1,418.1 488.1,427.0 489.9,431.4 490.7,439.7 487.3,442.0 485.5,436.0 485.0,428.0 485.3,420.0" fill="#49a898"/>
<polygon points="473.4,444.5 477.0,441.5 480.3,440.8 479.0,444.5 475.0,446.6" fill="#49a898"/>
<polygon points="512.0,388.1 516.4,384.5 521.7,381.0 526.1,377.4 528.2,378.3 527.9,383.6 526.1,389.8 523.5,396.0 519.0,403.1 514.6,408.4 511.1,411.1 509.3,407.5 510.2,402.2 508.4,396.9 507.5,393.4" fill="#43a59a"/>
<polygon points="352.0,491.0 355.0,490.5 356.6,494.0 354.0,495.2" fill="#49a898"/>
<polygon points="303.4,335.5 306.5,334.6 308.7,337.5 306.5,340.7 303.8,339.0" fill="#3a7fb8"/>
<polygon points="296.0,328.5 299.5,329.0 300.0,331.5 297.0,331.5" fill="#3a62ac"/>
<polygon points="399.0,386.0 403.0,385.5 404.0,388.5 400.5,389.5" fill="#49a898"/>
<polygon points="374.0,377.0 377.0,376.0 379.0,378.5 376.0,380.0" fill="#49a898"/>
<polygon points="368.0,380.5 371.0,380.0 372.0,383.0 369.0,384.0" fill="#49a898"/>
<polygon points="404.0,371.5 407.5,370.5 408.5,373.0 405.0,374.0" fill="#49a898"/>
<polygon points="408.0,377.0 411.0,376.5 411.5,379.0 408.5,379.5" fill="#49a898"/>
<polygon points="296.0,366.5 301.0,365.0 305.0,366.0 304.0,368.0 299.0,368.5" fill="#3a7fb8"/>
<polygon points="289.5,367.5 292.0,367.0 292.5,369.5 290.0,370.0" fill="#3a7fb8"/>
<g clip-path="url(#gc)">
<polygon points="244.0,132.0 300.0,112.0 330.0,116.0 400.0,112.0 412.0,150.0 300.0,152.0 292.0,170.0 300.0,200.0 250.0,200.0 246.0,170.0 240.0,152.0" fill="#cdf1c6" filter="url(#b1)"/>
<polygon points="300.0,110.0 410.0,100.0 412.0,150.0 330.0,158.0 302.0,150.0 298.0,125.0" fill="#e7f6c8" filter="url(#b1)"/>
<ellipse cx="278" cy="140" rx="12" ry="8" fill="#f6fad2" filter="url(#b1)" opacity="1"/>
<ellipse cx="262" cy="160" rx="8" ry="9" fill="#aeeabf" filter="url(#b1)" opacity="1"/>
<ellipse cx="283" cy="158" rx="9" ry="8" fill="#e4f5c6" filter="url(#b1)" opacity="1"/>
<ellipse cx="272" cy="182" rx="16" ry="7" fill="#a9e7bc" filter="url(#b1)" opacity="1"/>
<ellipse cx="284" cy="191" rx="22" ry="8" fill="#86d7af" filter="url(#b1)" opacity="1"/>
<ellipse cx="292" cy="198" rx="14" ry="9" fill="#6fcfa8" filter="url(#b1)" opacity="1"/>
<ellipse cx="300" cy="178" rx="6" ry="8" fill="#7fd4ac" filter="url(#b0)" opacity="1"/>
<ellipse cx="311" cy="143" rx="6" ry="8" fill="#a9e8c0" filter="url(#b0)" opacity="1"/>
<ellipse cx="311" cy="145" rx="3.5" ry="4.5" fill="#6fcaa5" filter="url(#b0)" opacity="1"/>
<ellipse cx="334" cy="136" rx="10" ry="7" fill="#dff3c6" filter="url(#b1)" opacity="1"/>
<ellipse cx="372" cy="134" rx="14" ry="8" fill="#f1f9d2" filter="url(#b1)" opacity="1"/>
<ellipse cx="374" cy="125" rx="7" ry="4" fill="#c9f5d0" filter="url(#b0)" opacity="1"/>
<ellipse cx="318" cy="150" rx="6" ry="5" fill="#bdeec2" filter="url(#b0)" opacity="1"/>
<ellipse cx="198" cy="182" rx="26" ry="18" fill="#68c5a5" filter="url(#b2)" opacity="1"/>
<ellipse cx="192" cy="190" rx="15" ry="15" fill="#98dfb6" filter="url(#b1)" opacity="1"/>
<ellipse cx="190" cy="196" rx="9" ry="7" fill="#b4ebc0" filter="url(#b1)" opacity="1"/>
<ellipse cx="187" cy="183" rx="5" ry="4" fill="#eaf6c8" filter="url(#b0)" opacity="1"/>
<ellipse cx="197" cy="200" rx="7" ry="5" fill="#b9ecc0" filter="url(#b0)" opacity="1"/>
<ellipse cx="204" cy="176" rx="8" ry="5" fill="#7fd3ad" filter="url(#b0)" opacity="1"/>
<ellipse cx="222" cy="196" rx="14" ry="20" fill="#3f93c4" filter="url(#b1)" opacity="1" transform="rotate(-25 222 196)"/>
<ellipse cx="219" cy="183.5" rx="5" ry="5.5" fill="#2c63b4" filter="url(#b0)" opacity="1" transform="rotate(-20 219 183.5)"/>
<ellipse cx="234" cy="200" rx="8" ry="12" fill="#2f72be" filter="url(#b0)" opacity="1" transform="rotate(-35 234 200)"/>
<ellipse cx="236" cy="203" rx="4" ry="6" fill="#2a62b4" filter="url(#b0)" opacity="1" transform="rotate(-35 236 203)"/>
<ellipse cx="254" cy="222" rx="5" ry="9" fill="#3f8fc6" filter="url(#b0)" opacity="1" transform="rotate(-35 254 222)"/>
<ellipse cx="242" cy="212" rx="4" ry="7" fill="#3b86c6" filter="url(#b0)" opacity="1" transform="rotate(-25 242 212)"/>
<ellipse cx="204" cy="249" rx="12" ry="15" fill="#3f93c4" filter="url(#b1)" opacity="1"/>
<ellipse cx="204" cy="250" rx="5" ry="7" fill="#295eaa" filter="url(#b0)" opacity="1"/>
<ellipse cx="241" cy="236" rx="9" ry="12" fill="#7bd0ad" filter="url(#b1)" opacity="1"/>
<ellipse cx="266" cy="231" rx="5" ry="10" fill="#3a86c6" filter="url(#b0)" opacity="1" transform="rotate(-35 266 231)"/>
<ellipse cx="276" cy="245" rx="4" ry="5" fill="#2f78c2" filter="url(#b0)" opacity="1"/>
<ellipse cx="279.5" cy="248" rx="2.5" ry="7" fill="#2a5fb8" filter="url(#b0)" opacity="1" transform="rotate(-38 279.5 248)"/>
<ellipse cx="270" cy="237" rx="3" ry="8" fill="#3478c4" filter="url(#b0)" opacity="1" transform="rotate(-40 270 237)"/>
<ellipse cx="160" cy="256" rx="8" ry="12" fill="#63c2a2" filter="url(#b1)" opacity="1" transform="rotate(-30 160 256)"/>
<ellipse cx="152" cy="252" rx="3" ry="6" fill="#c9efbf" filter="url(#b0)" opacity="1"/>
<ellipse cx="196" cy="268" rx="10" ry="7" fill="#58b99e" filter="url(#b1)" opacity="1"/>
<ellipse cx="274" cy="297" rx="25" ry="12" fill="#3b8cc4" filter="url(#b1)" opacity="1"/>
<ellipse cx="280" cy="292" rx="10" ry="6" fill="#3888c4" filter="url(#b1)" opacity="1"/>
<ellipse cx="218" cy="302" rx="12" ry="8" fill="#4fa6b2" filter="url(#b1)" opacity="1"/>
<ellipse cx="250" cy="300" rx="8" ry="6" fill="#4a9cc0" filter="url(#b1)" opacity="1"/>
<ellipse cx="296" cy="312" rx="8" ry="6" fill="#4fae9e" filter="url(#b1)" opacity="1"/>
<ellipse cx="305" cy="287" rx="4" ry="5" fill="#a6e8bb" filter="url(#b0)" opacity="1"/>
<ellipse cx="270" cy="352" rx="17" ry="30" fill="#3d92b8" filter="url(#b2)" opacity="1"/>
<ellipse cx="268" cy="338" rx="16" ry="14" fill="#3b8bbd" filter="url(#b1)" opacity="1"/>
<ellipse cx="246" cy="335" rx="7" ry="11" fill="#479bb8" filter="url(#b1)" opacity="1"/>
<ellipse cx="292" cy="349" rx="15" ry="6.5" fill="#2a59aa" filter="url(#b0)" opacity="1" transform="rotate(38 292 349)"/>
<ellipse cx="286" cy="332" rx="11" ry="11" fill="#2c55ac" filter="url(#b1)" opacity="1"/>
<ellipse cx="284" cy="333" rx="7" ry="10" fill="#2b46a4" filter="url(#b0)" opacity="1" transform="rotate(-20 284 333)"/>
<ellipse cx="285" cy="327" rx="7" ry="5.5" fill="#45288a" filter="url(#b0)" opacity="1"/>
<ellipse cx="281.5" cy="336" rx="5" ry="5.5" fill="#3c2c94" filter="url(#b0)" opacity="1"/>
<ellipse cx="293" cy="326" rx="5" ry="4" fill="#2f5fb2" filter="url(#b0)" opacity="1"/>
<ellipse cx="220.5" cy="328" rx="3" ry="4" fill="#a9e8bb" filter="url(#b0)" opacity="1"/>
<ellipse cx="392" cy="478" rx="8" ry="5" fill="#f2f9d6" filter="url(#b0)" opacity="1"/>
<ellipse cx="385" cy="468" rx="10" ry="5" fill="#8fdcb0" filter="url(#b0)" opacity="1"/>
<ellipse cx="412" cy="466" rx="8" ry="5" fill="#43a896" filter="url(#b0)" opacity="1"/>
<ellipse cx="340" cy="465" rx="10" ry="6" fill="#6fcaa6" filter="url(#b0)" opacity="1"/>
<ellipse cx="368" cy="466" rx="6" ry="4" fill="#4fb09c" filter="url(#b0)" opacity="1"/>
<ellipse cx="440" cy="466" rx="8" ry="4" fill="#6fcaa6" filter="url(#b0)" opacity="1"/>
<ellipse cx="415" cy="232" rx="7" ry="6" fill="#e6f2a8" filter="url(#b0)" opacity="1"/>
<ellipse cx="426" cy="242" rx="5" ry="5" fill="#6fcaa5" filter="url(#b0)" opacity="1"/>
<ellipse cx="404" cy="238" rx="5" ry="4" fill="#8fdcb0" filter="url(#b0)" opacity="1"/>
<ellipse cx="525" cy="392" rx="2.5" ry="7" fill="#2a6fb6" filter="url(#b0)" opacity="1" transform="rotate(20 525 392)"/>
<ellipse cx="512.5" cy="407" rx="2.5" ry="3" fill="#e9f5c0" filter="url(#b0)" opacity="1"/>
<ellipse cx="128" cy="247" rx="4" ry="3" fill="#d9f3c0" filter="url(#b0)" opacity="1"/>
<ellipse cx="357" cy="205" rx="3" ry="3" fill="#9fe5b4" filter="url(#b0)" opacity="1"/>
<polygon points="382.0,96.1 386.3,92.9 392.9,93.4 399.4,96.1 405.9,98.8 407.5,104.8 409.2,111.3 404.8,113.5 401.6,116.8 397.7,120.1 392.0,120.5 388.0,117.0 389.6,110.3 388.5,104.8 385.2,100.5" fill="#ffffff" filter="url(#b0)"/>
<polygon points="384.0,96.5 387.0,94.0 393.0,94.8 403.0,98.8 406.2,104.0 407.5,110.5 402.5,113.8 398.5,117.5 394.0,118.0 391.5,112.0 390.0,105.0 387.0,101.0" fill="#ffffff"/>
</g>
<polygon points="227.6,313.0 232.0,311.3 241.8,311.9 249.4,310.8 252.6,307.0 254.8,305.9 257.5,309.1 260.3,311.9 263.5,307.0 265.7,308.1 269.0,311.9 274.4,314.0 280.9,315.1 287.5,315.7 289.6,318.4 287.5,321.1 282.0,322.2 279.3,324.4 280.4,327.6 276.6,327.6 273.3,325.5 269.0,323.3 263.5,321.7 258.1,321.1 252.6,320.6 247.2,318.9 241.8,316.8 236.3,314.6 230.9,313.7" fill="#dcecf4" stroke="#0f2524" stroke-width="1.1" stroke-linejoin="round"/>
<polygon points="275.4,260.7 279.9,258.1 280.8,254.6 275.4,251.9 270.1,250.1 267.5,253.7 265.7,258.1 269.3,262.5 274.6,266.1 277.0,264.0" fill="#e6f1f6" stroke="#0f2524" stroke-width="1.1" stroke-linejoin="round"/>
<polygon points="176.5,283.0 178.0,280.7 184.2,278.9 190.4,279.8 194.8,281.6 195.7,286.0 192.2,286.9 187.7,285.1 182.4,284.3 178.9,286.0" fill="#edf5f8" stroke="#0f2524" stroke-width="1.1" stroke-linejoin="round"/>
<polygon points="156.3,165.5 158.0,164.5 159.8,168.0 160.0,173.5 158.5,175.4 157.0,172.0 156.3,168.5" fill="#c0c0c0" stroke="#2c3e40" stroke-width="0.8" stroke-linejoin="round"/>
<polygon points="168.0,173.0 171.0,170.2 175.0,170.5 177.5,173.0 178.2,177.0 175.5,179.5 172.5,178.0 171.5,175.0 169.0,176.0" fill="#c0c0c0" stroke="#2c3e40" stroke-width="0.8" stroke-linejoin="round"/>
<polygon points="175.2,180.0 178.3,180.3 178.4,184.2 175.8,184.0" fill="#f6faf6" stroke="#2c3e40" stroke-width="0.8" stroke-linejoin="round"/>
<polygon points="210.7,302.5 214.0,300.3 218.5,300.8 220.5,303.5 217.0,305.3 213.0,304.8" fill="#eaf5f4" stroke="#2c3e40" stroke-width="0.8" stroke-linejoin="round"/>
<polygon points="95.0,114.5 98.5,115.0 99.0,121.0 97.5,127.0 95.0,127.5" fill="#e8f0f2" stroke="#2c3e40" stroke-width="0.8" stroke-linejoin="round"/>
<polygon points="568.7,118.0 572.0,116.9 575.8,117.8 573.0,119.5 569.5,119.5" fill="#c0c0c0" stroke="#2c3e40" stroke-width="0.8" stroke-linejoin="round"/>
<polygon points="409.0,240.5 412.0,236.8 414.8,238.0 413.5,243.0 410.5,244.5" fill="#e4f2ee" stroke="#12302c" stroke-width="1.1" stroke-linejoin="round"/>
<polygon points="424.0,240.0 426.5,239.0 427.3,243.5 424.8,244.5" fill="#e4f2ee" stroke="#12302c" stroke-width="1.1" stroke-linejoin="round"/>
<polyline points="167.8,210.7 171.9,206.4 178.6,216.0 182.4,225.5 188.1,233.1 193.8,231.2 201.4,229.3 211.0,230.2 218.6,229.3 223.3,219.8 228.1,210.2 230.0,202.6 233.8,198.8 238.0,201.0 243.0,204.0 248.0,200.0" fill="none" stroke="#1b4a43" stroke-width="1.0" stroke-linejoin="round" stroke-linecap="round"/>
<polyline points="188.1,233.1 190.0,240.7 194.8,250.2 199.5,257.9 205.2,265.5 203.3,271.2 206.2,276.9 211.0,284.5 216.7,290.2 215.7,297.9 218.0,306.0 222.0,313.0" fill="none" stroke="#1b4a43" stroke-width="1.0" stroke-linejoin="round" stroke-linecap="round"/>
<polyline points="205.2,265.5 212.9,263.6 217.6,259.8 220.5,265.5 226.2,269.3 231.9,271.2 237.6,265.5 241.4,261.7 247.1,263.6 252.9,267.4 258.6,271.2 264.3,275.0 270.0,276.9" fill="none" stroke="#1b4a43" stroke-width="1.0" stroke-linejoin="round" stroke-linecap="round"/>
<polyline points="203.3,271.2 197.6,273.1 193.8,276.9 191.9,280.7" fill="none" stroke="#1b4a43" stroke-width="1.0" stroke-linejoin="round" stroke-linecap="round"/>
<polyline points="231.9,271.2 233.8,278.8 233.8,288.3 232.9,297.9 236.0,304.0 241.0,306.0 246.0,304.0 249.4,310.8" fill="none" stroke="#1b4a43" stroke-width="1.0" stroke-linejoin="round" stroke-linecap="round"/>
<polyline points="281.6,131.5 283.4,136.8 287.8,140.4 294.9,144.8 302.0,149.2 305.5,153.6 302.0,158.0 297.5,163.4 293.1,166.0 291.4,170.4" fill="none" stroke="#1b4a43" stroke-width="1.0" stroke-linejoin="round" stroke-linecap="round"/>
<polyline points="208.5,164.8 210.0,175.0 212.7,187.0 218.0,194.0 224.4,200.0 229.0,207.0 225.0,212.0 222.0,216.5 220.0,222.0 218.6,229.3" fill="none" stroke="#1b4a43" stroke-width="1.0" stroke-linejoin="round" stroke-linecap="round"/>
<polyline points="182.0,176.3 186.0,184.0 190.0,190.0 188.0,197.0 184.0,203.0 180.0,207.0 176.7,214.3" fill="none" stroke="#1b4a43" stroke-width="1.0" stroke-linejoin="round" stroke-linecap="round"/>
<polyline points="190.0,190.0 197.0,188.0 204.0,190.0 210.0,186.0 212.7,187.0" fill="none" stroke="#1b4a43" stroke-width="1.0" stroke-linejoin="round" stroke-linecap="round"/>
<polyline points="268.0,300.0 272.0,296.0 278.0,297.0 284.0,300.0 290.0,303.0 296.0,300.0 302.5,296.0" fill="none" stroke="#1b4a43" stroke-width="1.0" stroke-linejoin="round" stroke-linecap="round"/>
<polyline points="252.0,288.0 256.0,293.0 262.0,296.0 268.0,300.0 266.0,306.0 263.5,307.0" fill="none" stroke="#1b4a43" stroke-width="1.0" stroke-linejoin="round" stroke-linecap="round"/>
<polyline points="224.3,364.3 230.0,360.0 236.0,356.0 242.0,352.0 246.0,346.0 244.0,340.0 240.0,336.0 238.0,330.0 240.0,324.0 243.7,318.0" fill="none" stroke="#1b4a43" stroke-width="1.0" stroke-linejoin="round" stroke-linecap="round"/>
<polyline points="246.0,346.0 252.0,349.0 258.0,352.0 262.0,358.0 260.0,366.0 256.0,372.0 258.0,380.0 256.6,390.4" fill="none" stroke="#1b4a43" stroke-width="1.0" stroke-linejoin="round" stroke-linecap="round"/>
<polyline points="262.0,358.0 268.0,354.0 274.2,353.1" fill="none" stroke="#1b4a43" stroke-width="1.0" stroke-linejoin="round" stroke-linecap="round"/>
<polyline points="240.0,336.0 233.0,338.0 226.0,336.0 220.0,338.0 214.0,337.0 210.0,333.0" fill="none" stroke="#1b4a43" stroke-width="1.0" stroke-linejoin="round" stroke-linecap="round"/>
<polyline points="258.0,325.0 258.0,332.0 262.0,338.0 268.0,342.0 274.0,340.0 278.0,336.0 280.4,332.8" fill="none" stroke="#1b4a43" stroke-width="1.0" stroke-linejoin="round" stroke-linecap="round"/>
<polygon points="145.3,249.8 147.9,248.9 150.6,244.5 155.0,241.8 155.9,235.6 153.2,230.3 155.4,226.7 160.7,223.1 166.0,217.8 167.8,210.7 169.6,203.7 174.9,200.1 178.4,194.8 177.5,187.8 180.2,180.7 182.0,176.3 189.0,174.5 196.1,172.7 203.2,170.0 208.5,164.8 212.0,159.5 217.3,155.9 224.1,152.8 233.0,152.8 239.2,151.9 242.7,148.3 245.4,143.0 249.8,140.4 256.0,139.5 263.1,136.8 268.4,133.3 275.4,133.3 281.6,131.5 286.9,128.9 292.2,125.3 296.7,125.3 300.2,121.8 305.5,118.3 311.7,118.3 317.0,115.6 320.5,119.1 325.0,121.8 332.4,124.5 337.7,121.8 344.8,123.6 351.8,128.0 358.0,126.2 364.2,123.6 370.4,121.8 378.4,120.0 384.6,117.4 387.4,114.6 389.6,110.3 388.5,104.8 385.2,100.5 382.0,96.1 386.3,92.9 392.9,93.4 399.4,96.1 405.9,98.8 407.5,104.8 409.2,111.3 404.8,113.5 401.6,116.8 397.7,120.1 397.5,124.5 400.5,131.5 401.4,137.7 397.8,143.0 395.2,148.3 392.5,150.1 390.7,147.4 387.2,146.6 380.1,147.4 373.1,147.4 366.0,146.6 358.9,144.8 353.6,145.7 350.1,143.0 347.4,138.6 344.8,143.0 342.1,147.4 336.8,151.9 332.4,154.5 328.0,152.8 323.5,150.1 320.0,151.0 316.1,156.3 311.7,161.6 306.4,166.0 302.0,166.0 297.0,167.0 293.1,170.4 296.7,174.0 299.9,177.9 301.2,181.3 304.6,182.7 308.0,185.4 313.5,186.8 317.6,190.2 321.6,194.3 323.7,197.0 321.0,197.9 316.2,194.5 310.7,191.7 305.3,190.4 300.5,188.8 295.8,189.5 295.1,192.2 298.5,195.6 302.6,198.3 307.3,201.1 310.1,204.5 310.1,208.5 307.3,211.3 303.9,208.5 300.5,205.1 297.1,200.4 293.1,197.4 286.3,196.3 280.8,197.7 282.2,201.7 286.3,206.5 291.7,209.9 297.8,211.9 299.2,213.7 293.1,212.8 286.9,212.0 282.9,213.5 280.8,209.9 278.8,204.5 278.1,198.3 272.7,197.0 265.9,194.9 259.0,192.2 255.6,188.1 256.3,184.0 258.6,182.0 256.9,179.3 252.4,182.8 248.0,188.5 247.1,193.4 247.1,198.8 248.0,207.7 250.7,216.5 256.9,222.7 263.1,230.7 270.1,237.8 276.3,243.1 280.8,248.4 285.2,254.6 287.8,259.0 284.3,261.6 279.0,263.4 277.2,266.0 275.4,269.3 272.7,272.7 268.6,277.4 263.2,278.1 256.4,279.5 256.4,280.8 263.2,281.5 271.3,280.8 278.1,282.2 282.2,286.3 289.0,291.0 294.5,293.7 301.3,295.8 305.3,299.9 312.1,302.6 320.3,303.9 325.7,306.7 329.0,308.5 328.2,312.4 326.4,316.9 328.2,323.1 330.8,328.4 331.7,333.7 329.0,337.2 323.7,334.6 318.4,331.0 314.9,326.6 310.5,323.1 306.1,323.9 300.7,326.6 295.4,328.4 290.1,324.8 283.1,326.6 278.6,329.3 280.4,332.8 284.8,335.4 290.1,337.2 291.0,340.7 295.4,344.3 300.7,347.8 306.1,351.4 309.6,354.0 312.2,357.5 307.8,359.3 302.5,358.4 299.0,361.1 295.4,365.5 292.8,362.0 290.1,358.4 284.8,354.9 279.5,351.4 276.0,349.6 274.2,353.1 274.3,355.0 277.8,360.3 281.3,365.6 284.9,371.8 288.4,378.0 292.0,385.1 294.6,392.1 296.4,399.2 299.0,404.5 302.6,408.1 300.8,410.7 296.4,413.4 293.0,414.0 292.0,413.4 290.2,406.3 286.7,401.0 282.2,395.7 277.8,394.8 274.3,398.3 271.6,404.5 272.5,411.6 271.6,416.9 269.9,413.4 266.3,408.1 263.7,401.0 260.1,394.8 256.6,390.4 253.1,388.6 247.8,389.5 245.1,393.0 244.2,397.4 242.4,401.9 238.0,403.6 234.5,399.2 232.7,392.1 228.3,387.7 226.5,381.5 229.2,374.5 226.5,367.4 221.2,360.3 216.3,356.3 211.0,354.6 209.3,349.3 203.1,345.7 201.3,342.2 204.8,337.8 208.4,330.7 210.1,325.4 213.7,322.7 220.7,321.0 224.3,316.5 227.8,313.9 227.8,312.1 220.7,313.9 213.7,315.6 208.4,313.9 204.8,316.5 198.6,319.2 194.2,314.8 192.4,307.7 188.0,300.6 183.6,295.3 180.7,294.9 177.1,290.4 177.1,285.1 176.2,281.6 171.8,278.9 166.5,275.4 163.0,271.0 157.7,267.4 152.4,263.9 148.8,259.5 147.1,254.2" fill="none" stroke="#0f2524" stroke-width="1.4" stroke-linejoin="round"/>
<polygon points="276.0,271.0 280.8,267.8 287.8,266.5 292.5,271.5 300.4,277.0 309.3,280.8 319.0,282.6 326.5,284.0 329.5,287.7 332.6,294.8 336.1,301.0 343.2,307.1 351.2,308.0 352.0,314.2 348.5,318.6 343.2,317.8 337.9,314.2 334.4,309.8 330.8,305.4 326.4,301.0 322.0,298.3 314.9,296.5 309.6,295.6 306.1,293.0 301.6,288.6 296.3,285.0 290.1,281.5 283.1,278.0 277.8,276.2 275.1,273.5" fill="none" stroke="#0f2524" stroke-width="1.4" stroke-linejoin="round"/>
<polygon points="325.7,452.2 327.5,453.1 328.4,458.4 331.0,458.4 331.5,449.5 333.7,448.6 335.1,453.9 338.1,455.7 344.3,456.6 347.8,453.1 351.4,451.3 354.0,453.1 354.5,456.6 357.5,458.4 359.3,462.8 365.5,461.9 372.6,459.2 379.7,457.5 386.7,456.6 392.0,455.7 393.8,458.8 401.7,460.5 410.9,459.3 420.2,457.0 424.8,454.7 427.1,459.3 428.3,465.1 434.1,463.9 441.0,460.5 447.9,458.2 450.3,453.5 452.6,458.2 452.6,465.1 450.3,469.7 443.3,470.9 434.1,472.0 427.1,474.3 417.9,476.7 408.6,480.1 399.4,482.0 390.1,483.6 384.3,484.3 384.0,477.8 379.7,476.0 372.6,474.3 365.5,472.5 358.4,471.6 351.4,472.5 344.3,472.5 337.2,473.4 330.1,473.4 326.2,470.7 325.5,462.0" fill="none" stroke="#0f2524" stroke-width="1.5" stroke-linejoin="round"/>
<polygon points="124.1,246.2 129.4,243.6 135.6,244.5 137.3,248.0 135.6,251.5 137.3,256.0 140.9,260.4 146.2,263.9 147.1,266.6 141.8,265.7 137.3,263.0 133.8,258.6 130.3,253.3 126.7,249.8" fill="none" stroke="#0f2524" stroke-width="1.4" stroke-linejoin="round"/>
<polygon points="148.5,273.0 151.0,274.0 154.5,278.0 153.0,279.5 150.0,277.0" fill="none" stroke="#0f2524" stroke-width="1.4" stroke-linejoin="round"/>
<polygon points="172.1,294.4 177.4,291.8 179.2,296.2 176.5,302.4 172.1,307.7 171.2,302.4" fill="none" stroke="#0f2524" stroke-width="1.4" stroke-linejoin="round"/>
<polygon points="166.8,321.8 172.1,319.2 173.0,315.6 176.5,314.8 178.3,321.0 182.7,325.4 186.3,331.6 183.6,335.1 178.3,334.2 173.9,331.6 169.5,332.4 165.9,329.8 165.6,325.4" fill="none" stroke="#0f2524" stroke-width="1.4" stroke-linejoin="round"/>
<polygon points="177.5,311.5 179.5,312.0 182.0,317.0 183.2,321.0 181.5,321.0 179.0,316.5" fill="none" stroke="#0f2524" stroke-width="1.4" stroke-linejoin="round"/>
<polygon points="180.1,344.8 182.7,343.1 188.0,347.5 193.3,351.0 196.0,352.8 191.6,357.2 187.1,355.4 182.7,351.0" fill="none" stroke="#0f2524" stroke-width="1.4" stroke-linejoin="round"/>
<polygon points="291.2,415.9 296.5,417.7 300.1,422.1 298.3,427.4 294.8,426.5 292.1,421.2" fill="none" stroke="#0f2524" stroke-width="1.4" stroke-linejoin="round"/>
<polygon points="310.7,439.8 312.5,440.5 313.6,443.5 311.8,443.0" fill="none" stroke="#0f2524" stroke-width="1.4" stroke-linejoin="round"/>
<polygon points="328.8,158.9 333.3,158.1 336.8,161.6 337.7,166.0 335.0,169.6 331.5,170.4 328.0,168.7 325.3,165.1 326.2,161.6" fill="none" stroke="#0f2524" stroke-width="1.4" stroke-linejoin="round"/>
<polygon points="367.8,170.4 372.2,167.8 376.6,167.8 378.4,170.4 375.7,173.1 371.3,174.0" fill="none" stroke="#0f2524" stroke-width="1.4" stroke-linejoin="round"/>
<polygon points="354.7,202.2 359.1,198.9 365.6,200.0 370.0,195.6 372.2,197.8 371.1,205.5 367.8,211.0 363.5,209.9 362.5,206.5 360.2,207.7 356.9,208.8" fill="none" stroke="#0f2524" stroke-width="1.4" stroke-linejoin="round"/>
<polygon points="355.6,225.5 358.5,225.0 359.2,228.5 357.0,230.6 355.4,228.5" fill="none" stroke="#0f2524" stroke-width="1.4" stroke-linejoin="round"/>
<polygon points="396.3,236.6 402.5,233.0 408.7,229.5 413.1,226.8 418.4,227.7 422.0,232.1 427.3,235.7 431.7,241.9 429.9,246.3 423.7,248.9 416.7,248.1 410.5,246.3 406.1,243.6 399.9,241.9 396.9,239.2" fill="none" stroke="#0f2524" stroke-width="1.4" stroke-linejoin="round"/>
<polygon points="338.0,259.6 340.6,262.2 344.1,265.7 348.6,269.3 349.5,271.9 345.9,272.8 341.5,271.1 338.0,267.5 337.1,263.1" fill="none" stroke="#0f2524" stroke-width="1.4" stroke-linejoin="round"/>
<polygon points="387.5,275.5 390.0,274.6 391.9,277.0 390.5,279.9 388.0,279.0" fill="none" stroke="#0f2524" stroke-width="1.4" stroke-linejoin="round"/>
<polygon points="401.6,275.5 406.1,272.8 412.2,271.9 415.8,274.6 414.9,279.9 416.7,285.2 417.5,290.5 414.9,295.0 412.5,299.0 409.0,298.0 409.6,295.0 407.8,290.5 408.7,285.2 406.1,280.8 402.5,278.1" fill="none" stroke="#0f2524" stroke-width="1.4" stroke-linejoin="round"/>
<polygon points="290.5,256.5 293.5,255.4 295.8,257.5 294.0,259.9 291.0,259.5" fill="none" stroke="#0f2524" stroke-width="1.4" stroke-linejoin="round"/>
<polygon points="298.8,254.5 301.0,254.0 304.5,257.5 308.0,258.0 311.0,254.5 313.5,250.0 315.0,247.5 316.8,248.5 316.0,253.0 312.5,258.5 308.5,261.5 304.0,261.0 300.5,258.0" fill="none" stroke="#0f2524" stroke-width="1.4" stroke-linejoin="round"/>
<polygon points="318.5,247.0 321.0,244.0 323.5,240.0 324.5,241.0 322.5,245.5 320.0,248.5" fill="none" stroke="#0f2524" stroke-width="1.4" stroke-linejoin="round"/>
<polygon points="337.3,260.0 339.5,261.5 340.0,267.0 338.0,268.0 337.0,264.0" fill="none" stroke="#0f2524" stroke-width="1.4" stroke-linejoin="round"/>
<polygon points="359.2,314.8 364.5,316.5 369.8,322.7 372.4,328.0 369.8,329.8 365.4,325.4 361.0,321.0" fill="none" stroke="#0f2524" stroke-width="1.4" stroke-linejoin="round"/>
<polygon points="372.4,329.8 378.6,330.7 383.9,332.4 384.8,336.0 380.4,336.9 375.1,334.2" fill="none" stroke="#0f2524" stroke-width="1.4" stroke-linejoin="round"/>
<polygon points="388.4,338.6 393.7,337.8 395.4,341.3 391.0,343.1 387.5,344.8 384.8,343.9" fill="none" stroke="#0f2524" stroke-width="1.4" stroke-linejoin="round"/>
<polygon points="368.9,341.3 372.4,341.3 374.2,346.6 370.7,348.4 368.6,344.8" fill="none" stroke="#0f2524" stroke-width="1.4" stroke-linejoin="round"/>
<polygon points="341.5,336.0 346.8,334.2 347.7,338.6 345.0,343.1 341.5,342.2" fill="none" stroke="#0f2524" stroke-width="1.4" stroke-linejoin="round"/>
<polygon points="347.7,346.6 351.2,347.5 352.1,352.8 349.5,354.6 347.3,350.1" fill="none" stroke="#0f2524" stroke-width="1.4" stroke-linejoin="round"/>
<polygon points="352.1,360.7 356.5,360.7 357.4,364.3 353.9,366.1 351.6,363.4" fill="none" stroke="#0f2524" stroke-width="1.4" stroke-linejoin="round"/>
<polygon points="362.7,368.7 366.3,369.6 368.0,374.0 365.4,374.9 362.7,371.4" fill="none" stroke="#0f2524" stroke-width="1.4" stroke-linejoin="round"/>
<polygon points="379.5,366.1 383.1,360.7 388.4,358.1 391.0,360.7 389.3,366.1 384.8,368.7 380.4,369.6" fill="none" stroke="#0f2524" stroke-width="1.4" stroke-linejoin="round"/>
<polygon points="393.7,360.7 398.1,354.6 402.5,353.7 404.3,358.1 403.4,364.3 399.9,368.7 396.3,367.8 393.7,364.3" fill="none" stroke="#0f2524" stroke-width="1.4" stroke-linejoin="round"/>
<polygon points="413.1,374.9 418.4,369.6 423.7,365.2 426.4,366.1 422.0,371.4 416.7,376.7" fill="none" stroke="#0f2524" stroke-width="1.4" stroke-linejoin="round"/>
<polygon points="391.9,379.3 396.3,378.4 398.1,382.9 394.6,384.6 391.9,382.0" fill="none" stroke="#0f2524" stroke-width="1.4" stroke-linejoin="round"/>
<polygon points="417.5,328.0 422.0,325.4 428.2,321.8 432.6,320.1 431.7,323.6 426.4,328.0 421.1,332.4 417.5,332.4" fill="none" stroke="#0f2524" stroke-width="1.4" stroke-linejoin="round"/>
<polygon points="441.5,315.2 445.9,311.6 453.0,310.7 461.0,312.5 456.5,316.1 451.2,318.7 445.9,317.8" fill="none" stroke="#0f2524" stroke-width="1.4" stroke-linejoin="round"/>
<polygon points="466.9,367.7 471.3,364.2 476.6,359.8 481.9,358.0 483.7,359.8 480.1,363.3 474.8,366.8 470.4,370.4 467.4,371.3" fill="none" stroke="#0f2524" stroke-width="1.4" stroke-linejoin="round"/>
<polygon points="462.4,351.8 466.9,352.7 469.5,357.1 466.9,358.9 463.3,356.2" fill="none" stroke="#0f2524" stroke-width="1.4" stroke-linejoin="round"/>
<polygon points="456.3,344.7 459.8,346.5 461.6,350.9 458.9,350.0" fill="none" stroke="#0f2524" stroke-width="1.4" stroke-linejoin="round"/>
<polygon points="443.0,337.5 446.0,339.0 447.0,343.0 444.5,342.0" fill="none" stroke="#0f2524" stroke-width="1.4" stroke-linejoin="round"/>
<polygon points="504.9,369.5 509.3,368.6 510.2,373.0 505.8,373.9" fill="none" stroke="#0f2524" stroke-width="1.4" stroke-linejoin="round"/>
<polygon points="475.5,374.0 478.5,373.5 479.0,376.5 476.0,377.0" fill="none" stroke="#0f2524" stroke-width="1.4" stroke-linejoin="round"/>
<polygon points="485.4,381.0 489.0,382.0 492.5,385.5 490.0,386.8 486.5,384.5" fill="none" stroke="#0f2524" stroke-width="1.4" stroke-linejoin="round"/>
<polygon points="497.8,392.5 502.0,390.7 506.7,391.5 504.0,394.3 499.5,394.5" fill="none" stroke="#0f2524" stroke-width="1.4" stroke-linejoin="round"/>
<polygon points="436.8,381.0 441.0,379.2 444.0,381.5 448.3,380.5 447.0,384.5 443.0,386.3 439.0,384.5" fill="none" stroke="#0f2524" stroke-width="1.4" stroke-linejoin="round"/>
<polygon points="486.3,414.6 488.1,418.1 488.1,427.0 489.9,431.4 490.7,439.7 487.3,442.0 485.5,436.0 485.0,428.0 485.3,420.0" fill="none" stroke="#0f2524" stroke-width="1.4" stroke-linejoin="round"/>
<polygon points="473.4,444.5 477.0,441.5 480.3,440.8 479.0,444.5 475.0,446.6" fill="none" stroke="#0f2524" stroke-width="1.4" stroke-linejoin="round"/>
<polygon points="512.0,388.1 516.4,384.5 521.7,381.0 526.1,377.4 528.2,378.3 527.9,383.6 526.1,389.8 523.5,396.0 519.0,403.1 514.6,408.4 511.1,411.1 509.3,407.5 510.2,402.2 508.4,396.9 507.5,393.4" fill="none" stroke="#0f2524" stroke-width="1.4" stroke-linejoin="round"/>
<polygon points="352.0,491.0 355.0,490.5 356.6,494.0 354.0,495.2" fill="none" stroke="#0f2524" stroke-width="1.4" stroke-linejoin="round"/>
<polygon points="303.4,335.5 306.5,334.6 308.7,337.5 306.5,340.7 303.8,339.0" fill="none" stroke="#0f2524" stroke-width="1.4" stroke-linejoin="round"/>
<polygon points="296.0,328.5 299.5,329.0 300.0,331.5 297.0,331.5" fill="none" stroke="#0f2524" stroke-width="1.4" stroke-linejoin="round"/>
<polygon points="399.0,386.0 403.0,385.5 404.0,388.5 400.5,389.5" fill="none" stroke="#0f2524" stroke-width="1.4" stroke-linejoin="round"/>
<polygon points="374.0,377.0 377.0,376.0 379.0,378.5 376.0,380.0" fill="none" stroke="#0f2524" stroke-width="1.4" stroke-linejoin="round"/>
<polygon points="368.0,380.5 371.0,380.0 372.0,383.0 369.0,384.0" fill="none" stroke="#0f2524" stroke-width="1.4" stroke-linejoin="round"/>
<polygon points="404.0,371.5 407.5,370.5 408.5,373.0 405.0,374.0" fill="none" stroke="#0f2524" stroke-width="1.4" stroke-linejoin="round"/>
<polygon points="408.0,377.0 411.0,376.5 411.5,379.0 408.5,379.5" fill="none" stroke="#0f2524" stroke-width="1.4" stroke-linejoin="round"/>
<polygon points="296.0,366.5 301.0,365.0 305.0,366.0 304.0,368.0 299.0,368.5" fill="none" stroke="#0f2524" stroke-width="1.4" stroke-linejoin="round"/>
<polygon points="289.5,367.5 292.0,367.0 292.5,369.5 290.0,370.0" fill="none" stroke="#0f2524" stroke-width="1.4" stroke-linejoin="round"/>
<ellipse cx="267.2" cy="174.2" rx="2.8" ry="1.4" fill="none" stroke="#1a4039" stroke-width="1"/><ellipse cx="280.8" cy="173" rx="5.4" ry="1.6" fill="none" stroke="#1a4039" stroke-width="1" transform="rotate(-6 280.8 173)"/>
<ellipse cx="262" cy="145" rx="3.2" ry="1.3" fill="none" stroke="#1f4540" stroke-width=".8" transform="rotate(35 262 145)"/>
<polyline points="489.5,94.5 492.0,96.0 494.0,95.5" fill="none" stroke="#1c2326" stroke-width="1.4" stroke-linejoin="round" stroke-linecap="round"/>
<polyline points="492.5,111.0 494.0,114.5" fill="none" stroke="#1c2326" stroke-width="1.4" stroke-linejoin="round" stroke-linecap="round"/>
<polyline points="497.5,111.5 499.5,115.0" fill="none" stroke="#1c2326" stroke-width="1.4" stroke-linejoin="round" stroke-linecap="round"/>
<polyline points="503.0,111.5 504.5,114.5" fill="none" stroke="#1c2326" stroke-width="1.4" stroke-linejoin="round" stroke-linecap="round"/>
<polyline points="516.0,116.5 519.0,119.5 521.0,119.0" fill="none" stroke="#1c2326" stroke-width="1.3" stroke-linejoin="round" stroke-linecap="round"/>
<polyline points="524.0,120.0 527.0,123.5" fill="none" stroke="#1c2326" stroke-width="1.3" stroke-linejoin="round" stroke-linecap="round"/>
<ellipse cx="543.5" cy="141.3" rx="8" ry="3.6" fill="none" stroke="#2b383e" stroke-width="1"/>
<circle cx="118.5" cy="243" r="1.2" fill="#17302f"/><circle cx="112" cy="243" r="1.2" fill="#17302f"/><circle cx="120" cy="247" r="1.2" fill="#17302f"/><circle cx="181" cy="300" r="1.2" fill="#17302f"/><circle cx="184" cy="304" r="1.2" fill="#17302f"/><circle cx="187" cy="309" r="1.2" fill="#17302f"/><circle cx="321" cy="218" r="1.2" fill="#17302f"/><circle cx="324" cy="222" r="1.2" fill="#17302f"/><circle cx="322" cy="230" r="1.2" fill="#17302f"/><circle cx="343" cy="351" r="1.2" fill="#17302f"/><circle cx="297" cy="378" r="1.2" fill="#17302f"/><circle cx="306" cy="382" r="1.2" fill="#17302f"/><circle cx="311" cy="386" r="1.2" fill="#17302f"/><circle cx="360" cy="355" r="1.2" fill="#17302f"/><circle cx="374" cy="354" r="1.2" fill="#17302f"/><circle cx="381" cy="346" r="1.2" fill="#17302f"/><circle cx="405" cy="350" r="1.2" fill="#17302f"/><circle cx="412" cy="354" r="1.2" fill="#17302f"/><circle cx="436" cy="357" r="1.2" fill="#17302f"/><circle cx="452" cy="362" r="1.2" fill="#17302f"/><circle cx="458" cy="364" r="1.2" fill="#17302f"/><circle cx="431" cy="340" r="1.2" fill="#17302f"/><circle cx="437" cy="336" r="1.2" fill="#17302f"/><circle cx="452" cy="341" r="1.2" fill="#17302f"/><circle cx="423" cy="385" r="1.2" fill="#17302f"/><circle cx="430" cy="395" r="1.2" fill="#17302f"/><circle cx="440" cy="398" r="1.2" fill="#17302f"/><circle cx="447" cy="404" r="1.2" fill="#17302f"/><circle cx="455" cy="412" r="1.2" fill="#17302f"/><circle cx="462" cy="407" r="1.2" fill="#17302f"/><circle cx="417" cy="423" r="1.2" fill="#17302f"/><circle cx="427" cy="424" r="1.2" fill="#17302f"/><circle cx="388" cy="446" r="1.2" fill="#17302f"/><circle cx="418" cy="467" r="1.2" fill="#17302f"/><circle cx="446" cy="475" r="1.2" fill="#17302f"/><circle cx="473" cy="468" r="1.2" fill="#17302f"/><circle cx="350" cy="489" r="1.2" fill="#17302f"/><circle cx="330" cy="372" r="1.2" fill="#17302f"/><circle cx="336" cy="378" r="1.2" fill="#17302f"/><circle cx="316" cy="372" r="1.2" fill="#17302f"/><circle cx="322" cy="366" r="1.2" fill="#17302f"/><circle cx="308" cy="344" r="1.2" fill="#17302f"/><circle cx="312" cy="348" r="1.2" fill="#17302f"/><circle cx="316" cy="340" r="1.2" fill="#17302f"/><circle cx="425" cy="308" r="1.2" fill="#17302f"/><circle cx="420" cy="302" r="1.2" fill="#17302f"/>
</g>
<rect x="94" y="75" width="521.5" height="452" fill="none" stroke="#5f6468" stroke-width="1.3"/>
<line x1="82" y1="123.7" x2="94" y2="123.7" stroke="#777" stroke-width="1"/>
<line x1="82" y1="237.3" x2="94" y2="237.3" stroke="#777" stroke-width="1"/>
<line x1="82" y1="349.1" x2="94" y2="349.1" stroke="#777" stroke-width="1"/>
<line x1="82" y1="460.2" x2="94" y2="460.2" stroke="#777" stroke-width="1"/>
<line x1="172.8" y1="527" x2="172.8" y2="539" stroke="#777" stroke-width="1"/>
<line x1="263.6" y1="527" x2="263.6" y2="539" stroke="#777" stroke-width="1"/>
<line x1="355" y1="527" x2="355" y2="539" stroke="#777" stroke-width="1"/>
<line x1="447.3" y1="527" x2="447.3" y2="539" stroke="#777" stroke-width="1"/>
<line x1="540.8" y1="527" x2="540.8" y2="539" stroke="#777" stroke-width="1"/>
<rect x="630.5" y="75.00" width="20.8" height="25.41" fill="#874b80"/>
<rect x="630.5" y="100.11" width="20.8" height="25.41" fill="#3f1a6c"/>
<rect x="630.5" y="125.22" width="20.8" height="25.41" fill="#41206d"/>
<rect x="630.5" y="150.33" width="20.8" height="25.41" fill="#2a40ae"/>
<rect x="630.5" y="175.44" width="20.8" height="25.41" fill="#1f70a4"/>
<rect x="630.5" y="200.56" width="20.8" height="25.41" fill="#20699f"/>
<rect x="630.5" y="225.67" width="20.8" height="25.41" fill="#2389c6"/>
<rect x="630.5" y="250.78" width="20.8" height="25.41" fill="#44a9ca"/>
<rect x="630.5" y="275.89" width="20.8" height="25.41" fill="#4cacce"/>
<rect x="630.5" y="301.00" width="20.8" height="25.41" fill="#36a698"/>
<rect x="630.5" y="326.11" width="20.8" height="25.41" fill="#3aa590"/>
<rect x="630.5" y="351.22" width="20.8" height="25.41" fill="#4fb89f"/>
<rect x="630.5" y="376.33" width="20.8" height="25.41" fill="#9fe8b7"/>
<rect x="630.5" y="401.44" width="20.8" height="25.41" fill="#9ee8b5"/>
<rect x="630.5" y="426.56" width="20.8" height="25.41" fill="#c5f7d0"/>
<rect x="630.5" y="451.67" width="20.8" height="25.41" fill="#eef5c1"/>
<rect x="630.5" y="476.78" width="20.8" height="25.41" fill="#eff6c3"/>
<rect x="630.5" y="501.89" width="20.8" height="25.41" fill="#ffffff"/>
<line x1="630.5" y1="100.11" x2="651.3" y2="100.11" stroke="rgba(30,40,60,.35)" stroke-width="0.8"/>
<line x1="630.5" y1="125.22" x2="651.3" y2="125.22" stroke="rgba(30,40,60,.35)" stroke-width="0.8"/>
<line x1="630.5" y1="150.33" x2="651.3" y2="150.33" stroke="rgba(30,40,60,.35)" stroke-width="0.8"/>
<line x1="630.5" y1="175.44" x2="651.3" y2="175.44" stroke="rgba(30,40,60,.35)" stroke-width="0.8"/>
<line x1="630.5" y1="200.56" x2="651.3" y2="200.56" stroke="rgba(30,40,60,.35)" stroke-width="0.8"/>
<line x1="630.5" y1="225.67" x2="651.3" y2="225.67" stroke="rgba(30,40,60,.35)" stroke-width="0.8"/>
<line x1="630.5" y1="250.78" x2="651.3" y2="250.78" stroke="rgba(30,40,60,.35)" stroke-width="0.8"/>
<line x1="630.5" y1="275.89" x2="651.3" y2="275.89" stroke="rgba(30,40,60,.35)" stroke-width="0.8"/>
<line x1="630.5" y1="301.00" x2="651.3" y2="301.00" stroke="rgba(30,40,60,.35)" stroke-width="0.8"/>
<line x1="630.5" y1="326.11" x2="651.3" y2="326.11" stroke="rgba(30,40,60,.35)" stroke-width="0.8"/>
<line x1="630.5" y1="351.22" x2="651.3" y2="351.22" stroke="rgba(30,40,60,.35)" stroke-width="0.8"/>
<line x1="630.5" y1="376.33" x2="651.3" y2="376.33" stroke="rgba(30,40,60,.35)" stroke-width="0.8"/>
<line x1="630.5" y1="401.44" x2="651.3" y2="401.44" stroke="rgba(30,40,60,.35)" stroke-width="0.8"/>
<line x1="630.5" y1="426.56" x2="651.3" y2="426.56" stroke="rgba(30,40,60,.35)" stroke-width="0.8"/>
<line x1="630.5" y1="451.67" x2="651.3" y2="451.67" stroke="rgba(30,40,60,.35)" stroke-width="0.8"/>
<line x1="630.5" y1="476.78" x2="651.3" y2="476.78" stroke="rgba(30,40,60,.35)" stroke-width="0.8"/>
<line x1="630.5" y1="501.89" x2="651.3" y2="501.89" stroke="rgba(30,40,60,.35)" stroke-width="0.8"/>
<rect x="630.3" y="75" width="21.2" height="452" fill="none" stroke="#9a9a9a" stroke-width="1"/>
<path d="M161.8,147.0 L161.8,196.6 L204.0,196.6 L204.0,234.8" fill="none" stroke="#ec1b24" stroke-width="2.7" stroke-linejoin="miter"/><polygon points="204.0,244.8 198.5,233.8 209.5,233.8" fill="#ec1b24"/>
<path d="M297.8,112.0 L297.8,181.6 L231.6,181.6" fill="none" stroke="#ec1b24" stroke-width="2.7" stroke-linejoin="miter"/><polygon points="221.6,181.6 232.6,176.1 232.6,187.1" fill="#ec1b24"/>
<path d="M407.0,158.0 L361.9,158.0 L361.9,191.3 L330.8,191.3" fill="none" stroke="#ec1b24" stroke-width="2.7" stroke-linejoin="miter"/><polygon points="320.8,191.3 331.8,185.8 331.8,196.8" fill="#ec1b24"/>
<path d="M443.5,231.8 L360.8,231.8 L360.8,243.6 L288.8,243.6" fill="none" stroke="#ec1b24" stroke-width="2.7" stroke-linejoin="miter"/><polygon points="278.8,243.6 289.8,238.1 289.8,249.1" fill="#ec1b24"/>
<path d="M424.5,295.1 L358.6,295.1 L358.6,323.4 L303.4,323.4" fill="none" stroke="#ec1b24" stroke-width="2.7" stroke-linejoin="miter"/><polygon points="293.4,323.4 304.4,317.9 304.4,328.9" fill="#ec1b24"/>
<path d="M482.5,337.9 L453.5,337.9 L453.5,329.5 L440.4,329.5" fill="none" stroke="#ec1b24" stroke-width="2.7" stroke-linejoin="miter"/><polygon points="430.4,329.5 441.4,324.0 441.4,335.0" fill="#ec1b24"/>
<path d="M555.7,438.0 L555.7,417.8 L525.1,417.8 L525.1,409.4" fill="none" stroke="#ec1b24" stroke-width="2.7" stroke-linejoin="miter"/><polygon points="525.1,399.4 530.6,410.4 519.6,410.4" fill="#ec1b24"/>
<path d="M221.5,390.4 L254.5,390.4 L254.5,336.3 L272.9,336.3" fill="none" stroke="#ec1b24" stroke-width="2.7" stroke-linejoin="miter"/><polygon points="282.9,336.3 271.9,341.8 271.9,330.8" fill="#ec1b24"/>
<path d="M277.5,448.8 L294.6,448.8 L294.6,381.4" fill="none" stroke="#ec1b24" stroke-width="2.7" stroke-linejoin="miter"/><polygon points="294.6,371.4 300.1,382.4 289.1,382.4" fill="#ec1b24"/>
<polygon points="521.9,506.0 521.9,480.6 536.0,480.6 544.7,491.6 553.5,480.6 567.6,480.6 567.6,506.0 555.1,506.0 555.1,496.3 547.6,506.0 541.9,506.0 534.0,496.3 534.0,506.0" fill="#1a30b6"/><circle cx="521.4" cy="480.6" r="7.9" fill="#fcc41a"/><text x="573.6" y="489.8" font-size="12.4" fill="#2a41b4" textLength="35.5" lengthAdjust="spacingAndGlyphs">Meteo</text><text x="573.8" y="499.9" font-size="6.3" fill="#3f62d2" textLength="25" lengthAdjust="spacingAndGlyphs">Όλα για</text><text x="573.8" y="506.6" font-size="6.3" fill="#3f62d2" textLength="30" lengthAdjust="spacingAndGlyphs">τον καιρό</text>
</svg>
<div class="t" id="title" style="left:17.1px;top:-2.1px;font-size:25.7px;color:#111;">Two-days accumulated rainfall from meteorological stations</div>
<div class="t" id="s1" style="left:94.4px;top:39.1px;font-size:14.1px;">Max daily rainfall: 205.8 mm</div>
<div class="t" id="s2" style="left:94.4px;top:56.1px;font-size:14.1px;">data from 333 stations</div>
<div class="t" id="s3" style="right:120.6px;top:56.1px;font-size:14.1px;">25 Nov 2019 at 13:20 local time</div>
<div class="t ax" style="left:40.6px;top:117.0px;font-size:14.1px;">42°N</div>
<div class="t ax" style="left:40.6px;top:230.6px;font-size:14.1px;">40°N</div>
<div class="t ax" style="left:40.6px;top:342.6px;font-size:14.1px;">38°N</div>
<div class="t ax" style="left:40.6px;top:453.6px;font-size:14.1px;">36°N</div>
<div class="t ax" style="left:157.6px;top:548.5px;font-size:14.1px;">20°E</div>
<div class="t ax" style="left:248.3px;top:548.5px;font-size:14.1px;">22°E</div>
<div class="t ax" style="left:339.8px;top:548.5px;font-size:14.1px;">24°E</div>
<div class="t ax" style="left:432.3px;top:548.5px;font-size:14.1px;">26°E</div>
<div class="t ax" style="left:525.4px;top:548.5px;font-size:14.1px;">28°E</div>
<div class="t cb" style="left:661px;top:91.2px;font-size:18px;">120</div>
<div class="t cb" style="left:661px;top:116.3px;font-size:18px;">110</div>
<div class="t cb" style="left:661px;top:141.4px;font-size:18px;">100</div>
<div class="t cb" style="left:661px;top:166.5px;font-size:18px;">90</div>
<div class="t cb" style="left:661px;top:191.7px;font-size:18px;">80</div>
<div class="t cb" style="left:661px;top:216.8px;font-size:18px;">70</div>
<div class="t cb" style="left:661px;top:241.9px;font-size:18px;">60</div>
<div class="t cb" style="left:661px;top:267.0px;font-size:18px;">50</div>
<div class="t cb" style="left:661px;top:292.1px;font-size:18px;">40</div>
<div class="t cb" style="left:661px;top:317.2px;font-size:18px;">30</div>
<div class="t cb" style="left:661px;top:342.3px;font-size:18px;">20</div>
<div class="t cb" style="left:661px;top:367.4px;font-size:18px;">10</div>
<div class="t cb" style="left:661px;top:392.5px;font-size:18px;">5</div>
<div class="t cb" style="left:661px;top:417.7px;font-size:18px;">4</div>
<div class="t cb" style="left:661px;top:442.8px;font-size:18px;">2</div>
<div class="t cb" style="left:661px;top:467.9px;font-size:18px;">1</div>
<div class="t cb" style="left:661px;top:493.0px;font-size:18px;">0.5</div>
<div class="t" id="foot" style="left:40.6px;top:578.2px;font-size:14.5px;">National Observatory of Athens, Greece - meteo.gr</div>
<div class="lb" style="left:99.9px;top:116.3px;width:122.7px;height:31.8px;"><span id="lb0" style="left:8.8px;transform:translateY(-40%) scaleX(1.003);">Περτούλι : 97 mm</span></div>
<div class="lb" style="left:222.2px;top:80.0px;width:151.7px;height:32.8px;"><span id="lb1" style="left:16.8px;transform:translateY(-40%) scaleX(0.990);">Αγ. Παύλος : 93 mm</span></div>
<div class="lb" style="left:406.2px;top:143.0px;width:151.2px;height:30.9px;"><span id="lb2" style="left:12.8px;transform:translateY(-40%) scaleX(0.979);">Σιμωνόπετρα : 84 mm</span></div>
<div class="lb" style="left:442.7px;top:216.3px;width:132.7px;height:31.6px;"><span id="lb3" style="left:15.7px;transform:translateY(-40%) scaleX(0.992);">Ζαγορά : 135 mm</span></div>
<div class="lb" style="left:423.7px;top:278.7px;width:159.5px;height:32.4px;"><span id="lb4" style="left:10.2px;transform:translateY(-40%) scaleX(0.998);">Αγ. Θεόδωροι : 206 mm</span></div>
<div class="lb" style="left:481.7px;top:322.3px;width:119.2px;height:31.5px;"><span id="lb5" style="left:13.4px;transform:translateY(-40%) scaleX(1.030);">Ικαρία : 66 mm</span></div>
<div class="lb" style="left:499.2px;top:437.2px;width:112.4px;height:31.4px;"><span id="lb6" style="left:10.4px;transform:translateY(-40%) scaleX(0.991);">Λίνδος : 68 mm</span></div>
<div class="lb" style="left:97.1px;top:374.2px;width:125.0px;height:32.5px;"><span id="lb7" style="left:16.6px;transform:translateY(-40%) scaleX(1.001);">Αμόνι : 162 mm</span></div>
<div class="lb" style="left:164.5px;top:433.4px;width:113.9px;height:32.3px;"><span id="lb8" style="left:8.4px;transform:translateY(-40%) scaleX(0.969);">Σπέτσες : 84 mm</span></div>
</body></html>
